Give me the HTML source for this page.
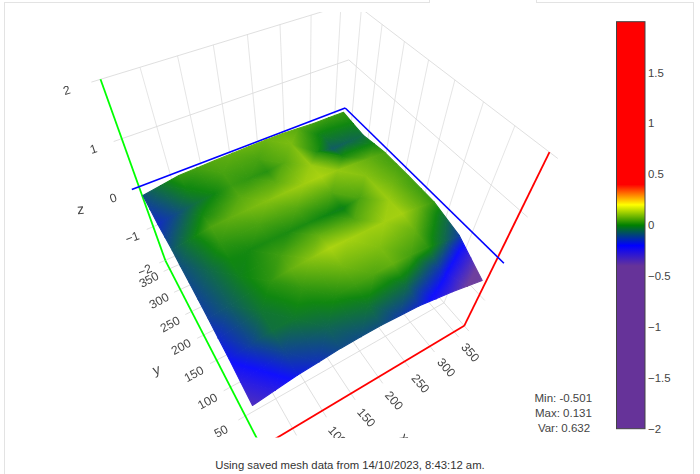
<!DOCTYPE html>
<html><head><meta charset="utf-8"><title>Bed Visualizer</title>
<style>
html,body{margin:0;padding:0;background:#fff;}
body{width:700px;height:474px;overflow:hidden;position:relative;font-family:"Liberation Sans",sans-serif;}
#frame{position:absolute;left:4px;top:2px;width:688px;height:480px;border:1px solid #e3e3e3;border-bottom:none;box-sizing:content-box;}
#gap{position:absolute;left:429px;top:0;width:106px;height:3px;background:#fff;border-left:1px solid #e3e3e3;border-right:1px solid #e3e3e3;}
svg{position:absolute;left:0;top:0;}
.g{stroke:#d9d9d9;stroke-width:0.85;fill:none}
.v{stroke:#e0e0e0}
.zx{stroke:#00ff00;stroke-width:1.8;fill:none}
.zy{stroke:#ff0000;stroke-width:1.8;fill:none}
.zz{stroke:#0000ff;stroke-width:1.6;fill:none}
.w{stroke:#fff;stroke-width:0.5;fill:none}
.t{fill:#444;font-family:"Liberation Sans",sans-serif;}
#surf path{stroke-width:1.1;stroke-linejoin:round}
#foot{position:absolute;left:0;width:700px;top:458.4px;text-align:center;font-size:11.3px;color:#333;line-height:14px;opacity:0.995;}
</style></head><body>
<div id="frame"></div><div id="gap"></div>
<svg width="700" height="474" viewBox="0 0 700 474">
<defs><clipPath id="sc"><rect x="8" y="12" width="600" height="425.6"/></clipPath>
<linearGradient id="t0" gradientUnits="userSpaceOnUse" x1="338.2" y1="129.7" x2="334.1" y2="116.2"><stop offset="0.000" stop-color="#10811b"/><stop offset="0.222" stop-color="#108710"/><stop offset="1.000" stop-color="#399b10"/></linearGradient><linearGradient id="t1" gradientUnits="userSpaceOnUse" x1="350.2" y1="125.1" x2="342.5" y2="110.5"><stop offset="0.000" stop-color="#108415"/><stop offset="0.125" stop-color="#108710"/><stop offset="1.000" stop-color="#399b10"/></linearGradient><linearGradient id="t2" gradientUnits="userSpaceOnUse" x1="322.9" y1="136.0" x2="318.3" y2="120.9"><stop offset="0.000" stop-color="#107e21"/><stop offset="0.300" stop-color="#108710"/><stop offset="1.000" stop-color="#399b10"/></linearGradient><linearGradient id="t3" gradientUnits="userSpaceOnUse" x1="322.9" y1="136.0" x2="316.3" y2="122.1"><stop offset="0.000" stop-color="#107e21"/><stop offset="0.273" stop-color="#108710"/><stop offset="1.000" stop-color="#3f9e10"/></linearGradient><linearGradient id="t4" gradientUnits="userSpaceOnUse" x1="323.0" y1="136.7" x2="300.5" y2="141.2"><stop offset="0.000" stop-color="#107e21"/><stop offset="0.200" stop-color="#108710"/><stop offset="1.000" stop-color="#57aa10"/></linearGradient><linearGradient id="t5" gradientUnits="userSpaceOnUse" x1="323.3" y1="135.7" x2="310.0" y2="118.9"><stop offset="0.000" stop-color="#107e21"/><stop offset="0.200" stop-color="#108710"/><stop offset="1.000" stop-color="#57aa10"/></linearGradient><linearGradient id="t6" gradientUnits="userSpaceOnUse" x1="307.5" y1="140.9" x2="291.2" y2="143.9"><stop offset="0.000" stop-color="#3c9d10"/><stop offset="1.000" stop-color="#7abc10"/></linearGradient><linearGradient id="t7" gradientUnits="userSpaceOnUse" x1="298.0" y1="128.5" x2="291.2" y2="143.9"><stop offset="0.000" stop-color="#57aa10"/><stop offset="1.000" stop-color="#7abc10"/></linearGradient><linearGradient id="t8" gradientUnits="userSpaceOnUse" x1="274.7" y1="151.3" x2="281.3" y2="138.7"><stop offset="0.000" stop-color="#61af10"/><stop offset="1.000" stop-color="#7abc10"/></linearGradient><linearGradient id="t9" gradientUnits="userSpaceOnUse" x1="280.3" y1="130.8" x2="289.3" y2="145.0"><stop offset="0.000" stop-color="#6bb410"/><stop offset="1.000" stop-color="#7abc10"/></linearGradient><linearGradient id="t10" gradientUnits="userSpaceOnUse" x1="257.9" y1="158.9" x2="267.2" y2="140.8"><stop offset="0.000" stop-color="#48a310"/><stop offset="1.000" stop-color="#6bb410"/></linearGradient><linearGradient id="t11" gradientUnits="userSpaceOnUse" x1="257.9" y1="158.9" x2="253.3" y2="143.9"><stop offset="0.000" stop-color="#48a310"/><stop offset="1.000" stop-color="#6bb410"/></linearGradient><linearGradient id="t12" gradientUnits="userSpaceOnUse" x1="240.6" y1="165.7" x2="235.3" y2="152.2"><stop offset="0.000" stop-color="#48a310"/><stop offset="1.000" stop-color="#60ae10"/></linearGradient><linearGradient id="t13" gradientUnits="userSpaceOnUse" x1="251.6" y1="160.0" x2="249.1" y2="146.5"><stop offset="0.000" stop-color="#48a310"/><stop offset="1.000" stop-color="#68b310"/></linearGradient><linearGradient id="t14" gradientUnits="userSpaceOnUse" x1="223.0" y1="172.7" x2="217.6" y2="159.1"><stop offset="0.000" stop-color="#48a310"/><stop offset="1.000" stop-color="#60ae10"/></linearGradient><linearGradient id="t15" gradientUnits="userSpaceOnUse" x1="223.0" y1="172.7" x2="223.2" y2="153.3"><stop offset="0.000" stop-color="#48a310"/><stop offset="1.000" stop-color="#60ae10"/></linearGradient><linearGradient id="t16" gradientUnits="userSpaceOnUse" x1="205.1" y1="181.0" x2="207.8" y2="169.2"><stop offset="0.000" stop-color="#299310"/><stop offset="1.000" stop-color="#48a310"/></linearGradient><linearGradient id="t17" gradientUnits="userSpaceOnUse" x1="211.8" y1="171.8" x2="214.7" y2="160.4"><stop offset="0.000" stop-color="#45a110"/><stop offset="1.000" stop-color="#57aa10"/></linearGradient><linearGradient id="t18" gradientUnits="userSpaceOnUse" x1="186.9" y1="189.5" x2="191.8" y2="166.8"><stop offset="0.000" stop-color="#108415"/><stop offset="0.100" stop-color="#108710"/><stop offset="1.000" stop-color="#45a110"/></linearGradient><linearGradient id="t19" gradientUnits="userSpaceOnUse" x1="186.9" y1="189.5" x2="185.2" y2="168.9"><stop offset="0.000" stop-color="#108415"/><stop offset="0.100" stop-color="#108710"/><stop offset="1.000" stop-color="#45a110"/></linearGradient><linearGradient id="t20" gradientUnits="userSpaceOnUse" x1="168.7" y1="199.4" x2="175.7" y2="184.3"><stop offset="0.000" stop-color="#10615a"/><stop offset="1.000" stop-color="#108415"/></linearGradient><linearGradient id="t21" gradientUnits="userSpaceOnUse" x1="172.4" y1="190.5" x2="178.9" y2="175.6"><stop offset="0.000" stop-color="#107533"/><stop offset="0.500" stop-color="#108710"/><stop offset="1.000" stop-color="#339810"/></linearGradient><linearGradient id="t22" gradientUnits="userSpaceOnUse" x1="150.2" y1="209.6" x2="161.2" y2="185.5"><stop offset="0.000" stop-color="#103f9e"/><stop offset="1.000" stop-color="#107533"/></linearGradient><linearGradient id="t23" gradientUnits="userSpaceOnUse" x1="150.2" y1="209.6" x2="163.1" y2="186.6"><stop offset="0.000" stop-color="#103f9e"/><stop offset="1.000" stop-color="#107533"/></linearGradient><linearGradient id="t24" gradientUnits="userSpaceOnUse" x1="348.0" y1="142.0" x2="346.3" y2="124.2"><stop offset="0.000" stop-color="#106651"/><stop offset="1.000" stop-color="#108415"/></linearGradient><linearGradient id="t25" gradientUnits="userSpaceOnUse" x1="348.0" y1="142.0" x2="343.4" y2="126.5"><stop offset="0.000" stop-color="#106651"/><stop offset="1.000" stop-color="#108415"/></linearGradient><linearGradient id="t26" gradientUnits="userSpaceOnUse" x1="332.5" y1="149.0" x2="329.8" y2="134.7"><stop offset="0.000" stop-color="#105d63"/><stop offset="1.000" stop-color="#107e21"/></linearGradient><linearGradient id="t27" gradientUnits="userSpaceOnUse" x1="342.4" y1="143.7" x2="338.2" y2="129.7"><stop offset="0.000" stop-color="#106651"/><stop offset="1.000" stop-color="#10811b"/></linearGradient><linearGradient id="t28" gradientUnits="userSpaceOnUse" x1="332.4" y1="152.2" x2="316.9" y2="151.7"><stop offset="0.000" stop-color="#105d63"/><stop offset="0.824" stop-color="#108710"/><stop offset="1.000" stop-color="#218f10"/></linearGradient><linearGradient id="t29" gradientUnits="userSpaceOnUse" x1="325.9" y1="149.7" x2="310.2" y2="153.1"><stop offset="0.000" stop-color="#107e21"/><stop offset="0.286" stop-color="#108710"/><stop offset="1.000" stop-color="#3c9d10"/></linearGradient><linearGradient id="t30" gradientUnits="userSpaceOnUse" x1="309.3" y1="144.8" x2="300.6" y2="154.5"><stop offset="0.000" stop-color="#218f10"/><stop offset="1.000" stop-color="#86c210"/></linearGradient><linearGradient id="t31" gradientUnits="userSpaceOnUse" x1="314.3" y1="138.5" x2="291.0" y2="143.1"><stop offset="0.000" stop-color="#218f10"/><stop offset="1.000" stop-color="#7abc10"/></linearGradient><linearGradient id="t32" gradientUnits="userSpaceOnUse" x1="283.9" y1="163.0" x2="301.2" y2="155.9"><stop offset="0.000" stop-color="#57aa10"/><stop offset="1.000" stop-color="#86c210"/></linearGradient><linearGradient id="t33" gradientUnits="userSpaceOnUse" x1="283.9" y1="163.0" x2="293.6" y2="145.2"><stop offset="0.000" stop-color="#57aa10"/><stop offset="1.000" stop-color="#7abc10"/></linearGradient><linearGradient id="t34" gradientUnits="userSpaceOnUse" x1="267.0" y1="171.7" x2="271.2" y2="158.8"><stop offset="0.000" stop-color="#279210"/><stop offset="1.000" stop-color="#57aa10"/></linearGradient><linearGradient id="t35" gradientUnits="userSpaceOnUse" x1="267.8" y1="164.2" x2="274.7" y2="151.3"><stop offset="0.000" stop-color="#48a310"/><stop offset="1.000" stop-color="#61af10"/></linearGradient><linearGradient id="t36" gradientUnits="userSpaceOnUse" x1="251.9" y1="182.0" x2="243.0" y2="169.0"><stop offset="0.000" stop-color="#279210"/><stop offset="1.000" stop-color="#48a310"/></linearGradient><linearGradient id="t37" gradientUnits="userSpaceOnUse" x1="249.5" y1="178.5" x2="243.9" y2="164.4"><stop offset="0.000" stop-color="#309710"/><stop offset="1.000" stop-color="#48a310"/></linearGradient><linearGradient id="t38" gradientUnits="userSpaceOnUse" x1="238.2" y1="191.3" x2="220.4" y2="175.6"><stop offset="0.000" stop-color="#309710"/><stop offset="1.000" stop-color="#48a310"/></linearGradient><linearGradient id="t39" gradientUnits="userSpaceOnUse" x1="246.2" y1="179.8" x2="240.6" y2="165.7"><stop offset="0.000" stop-color="#309710"/><stop offset="1.000" stop-color="#48a310"/></linearGradient><linearGradient id="t40" gradientUnits="userSpaceOnUse" x1="213.4" y1="194.5" x2="226.5" y2="175.0"><stop offset="0.000" stop-color="#108512"/><stop offset="0.050" stop-color="#108710"/><stop offset="1.000" stop-color="#48a310"/></linearGradient><linearGradient id="t41" gradientUnits="userSpaceOnUse" x1="213.4" y1="194.5" x2="219.0" y2="171.7"><stop offset="0.000" stop-color="#108512"/><stop offset="0.050" stop-color="#108710"/><stop offset="1.000" stop-color="#48a310"/></linearGradient><linearGradient id="t42" gradientUnits="userSpaceOnUse" x1="195.1" y1="203.8" x2="197.9" y2="191.0"><stop offset="0.000" stop-color="#106f3f"/><stop offset="1.000" stop-color="#108512"/></linearGradient><linearGradient id="t43" gradientUnits="userSpaceOnUse" x1="202.2" y1="193.1" x2="205.1" y2="181.0"><stop offset="0.000" stop-color="#108415"/><stop offset="0.190" stop-color="#108710"/><stop offset="1.000" stop-color="#299310"/></linearGradient><linearGradient id="t44" gradientUnits="userSpaceOnUse" x1="176.6" y1="213.9" x2="186.3" y2="189.2"><stop offset="0.000" stop-color="#104e80"/><stop offset="1.000" stop-color="#108415"/></linearGradient><linearGradient id="t45" gradientUnits="userSpaceOnUse" x1="176.6" y1="213.9" x2="188.2" y2="190.1"><stop offset="0.000" stop-color="#104e80"/><stop offset="1.000" stop-color="#108415"/></linearGradient><linearGradient id="t46" gradientUnits="userSpaceOnUse" x1="157.8" y1="224.2" x2="165.8" y2="208.5"><stop offset="0.000" stop-color="#102dc1"/><stop offset="1.000" stop-color="#104e80"/></linearGradient><linearGradient id="t47" gradientUnits="userSpaceOnUse" x1="161.3" y1="214.9" x2="168.7" y2="199.4"><stop offset="0.000" stop-color="#103f9e"/><stop offset="1.000" stop-color="#10615a"/></linearGradient><linearGradient id="t48" gradientUnits="userSpaceOnUse" x1="354.8" y1="139.6" x2="358.6" y2="150.1"><stop offset="0.000" stop-color="#106651"/><stop offset="0.898" stop-color="#108710"/><stop offset="1.000" stop-color="#178a10"/></linearGradient><linearGradient id="t49" gradientUnits="userSpaceOnUse" x1="360.0" y1="131.6" x2="372.0" y2="145.5"><stop offset="0.000" stop-color="#106651"/><stop offset="0.957" stop-color="#108710"/><stop offset="1.000" stop-color="#128810"/></linearGradient><linearGradient id="t50" gradientUnits="userSpaceOnUse" x1="338.9" y1="145.3" x2="342.9" y2="156.4"><stop offset="0.000" stop-color="#106651"/><stop offset="0.846" stop-color="#108710"/><stop offset="1.000" stop-color="#1b8c10"/></linearGradient><linearGradient id="t51" gradientUnits="userSpaceOnUse" x1="336.7" y1="146.4" x2="342.9" y2="156.4"><stop offset="0.000" stop-color="#105d63"/><stop offset="0.875" stop-color="#108710"/><stop offset="1.000" stop-color="#1b8c10"/></linearGradient><linearGradient id="t52" gradientUnits="userSpaceOnUse" x1="328.6" y1="153.4" x2="327.0" y2="160.8"><stop offset="0.000" stop-color="#1b8c10"/><stop offset="1.000" stop-color="#5aab10"/></linearGradient><linearGradient id="t53" gradientUnits="userSpaceOnUse" x1="332.5" y1="149.0" x2="331.5" y2="154.5"><stop offset="0.000" stop-color="#105d63"/><stop offset="0.824" stop-color="#108710"/><stop offset="1.000" stop-color="#218f10"/></linearGradient><linearGradient id="t54" gradientUnits="userSpaceOnUse" x1="313.4" y1="151.0" x2="310.5" y2="165.3"><stop offset="0.000" stop-color="#218f10"/><stop offset="1.000" stop-color="#98ca10"/></linearGradient><linearGradient id="t55" gradientUnits="userSpaceOnUse" x1="319.7" y1="154.0" x2="310.5" y2="165.3"><stop offset="0.000" stop-color="#218f10"/><stop offset="1.000" stop-color="#98ca10"/></linearGradient><linearGradient id="t56" gradientUnits="userSpaceOnUse" x1="281.7" y1="167.2" x2="303.3" y2="178.7"><stop offset="0.000" stop-color="#57aa10"/><stop offset="1.000" stop-color="#98ca10"/></linearGradient><linearGradient id="t57" gradientUnits="userSpaceOnUse" x1="282.9" y1="159.0" x2="307.3" y2="152.8"><stop offset="0.000" stop-color="#57aa10"/><stop offset="1.000" stop-color="#98ca10"/></linearGradient><linearGradient id="t58" gradientUnits="userSpaceOnUse" x1="274.2" y1="180.8" x2="286.0" y2="187.2"><stop offset="0.000" stop-color="#57aa10"/><stop offset="1.000" stop-color="#7abc10"/></linearGradient><linearGradient id="t59" gradientUnits="userSpaceOnUse" x1="264.8" y1="176.2" x2="276.2" y2="181.8"><stop offset="0.000" stop-color="#279210"/><stop offset="1.000" stop-color="#5dad10"/></linearGradient><linearGradient id="t60" gradientUnits="userSpaceOnUse" x1="252.4" y1="177.0" x2="258.8" y2="190.2"><stop offset="0.000" stop-color="#309710"/><stop offset="1.000" stop-color="#5dad10"/></linearGradient><linearGradient id="t61" gradientUnits="userSpaceOnUse" x1="267.0" y1="171.7" x2="270.1" y2="183.5"><stop offset="0.000" stop-color="#279210"/><stop offset="1.000" stop-color="#5dad10"/></linearGradient><linearGradient id="t62" gradientUnits="userSpaceOnUse" x1="234.7" y1="185.6" x2="240.6" y2="197.9"><stop offset="0.000" stop-color="#309710"/><stop offset="1.000" stop-color="#5aab10"/></linearGradient><linearGradient id="t63" gradientUnits="userSpaceOnUse" x1="237.4" y1="180.5" x2="240.2" y2="197.0"><stop offset="0.000" stop-color="#309710"/><stop offset="1.000" stop-color="#57aa10"/></linearGradient><linearGradient id="t64" gradientUnits="userSpaceOnUse" x1="210.7" y1="198.7" x2="230.3" y2="211.8"><stop offset="0.000" stop-color="#108512"/><stop offset="0.040" stop-color="#108710"/><stop offset="1.000" stop-color="#57aa10"/></linearGradient><linearGradient id="t65" gradientUnits="userSpaceOnUse" x1="215.8" y1="182.4" x2="242.0" y2="187.4"><stop offset="0.000" stop-color="#108512"/><stop offset="0.040" stop-color="#108710"/><stop offset="1.000" stop-color="#57aa10"/></linearGradient><linearGradient id="t66" gradientUnits="userSpaceOnUse" x1="200.4" y1="213.6" x2="211.4" y2="221.1"><stop offset="0.000" stop-color="#108512"/><stop offset="0.071" stop-color="#108710"/><stop offset="1.000" stop-color="#369a10"/></linearGradient><linearGradient id="t67" gradientUnits="userSpaceOnUse" x1="192.1" y1="208.4" x2="202.8" y2="215.2"><stop offset="0.000" stop-color="#106f3f"/><stop offset="0.889" stop-color="#108710"/><stop offset="1.000" stop-color="#158910"/></linearGradient><linearGradient id="t68" gradientUnits="userSpaceOnUse" x1="174.0" y1="223.2" x2="198.7" y2="230.0"><stop offset="0.000" stop-color="#104e80"/><stop offset="0.950" stop-color="#108710"/><stop offset="1.000" stop-color="#158910"/></linearGradient><linearGradient id="t69" gradientUnits="userSpaceOnUse" x1="182.2" y1="198.9" x2="205.6" y2="207.7"><stop offset="0.000" stop-color="#104e80"/><stop offset="0.950" stop-color="#108710"/><stop offset="1.000" stop-color="#158910"/></linearGradient><linearGradient id="t70" gradientUnits="userSpaceOnUse" x1="164.8" y1="236.8" x2="179.7" y2="241.0"><stop offset="0.000" stop-color="#104298"/><stop offset="1.000" stop-color="#106651"/></linearGradient><linearGradient id="t71" gradientUnits="userSpaceOnUse" x1="155.2" y1="234.3" x2="170.2" y2="238.3"><stop offset="0.000" stop-color="#102dc1"/><stop offset="1.000" stop-color="#104e80"/></linearGradient><linearGradient id="t72" gradientUnits="userSpaceOnUse" x1="369.2" y1="144.0" x2="369.8" y2="158.5"><stop offset="0.000" stop-color="#128810"/><stop offset="1.000" stop-color="#60ae10"/></linearGradient><linearGradient id="t73" gradientUnits="userSpaceOnUse" x1="365.6" y1="146.8" x2="369.8" y2="158.5"><stop offset="0.000" stop-color="#128810"/><stop offset="1.000" stop-color="#60ae10"/></linearGradient><linearGradient id="t74" gradientUnits="userSpaceOnUse" x1="352.1" y1="154.7" x2="353.9" y2="164.3"><stop offset="0.000" stop-color="#1b8c10"/><stop offset="1.000" stop-color="#7abc10"/></linearGradient><linearGradient id="t75" gradientUnits="userSpaceOnUse" x1="358.6" y1="150.1" x2="362.6" y2="161.1"><stop offset="0.000" stop-color="#178a10"/><stop offset="1.000" stop-color="#60ae10"/></linearGradient><linearGradient id="t76" gradientUnits="userSpaceOnUse" x1="335.0" y1="158.2" x2="337.6" y2="170.4"><stop offset="0.000" stop-color="#1b8c10"/><stop offset="1.000" stop-color="#92c810"/></linearGradient><linearGradient id="t77" gradientUnits="userSpaceOnUse" x1="340.9" y1="156.0" x2="337.6" y2="170.4"><stop offset="0.000" stop-color="#1b8c10"/><stop offset="1.000" stop-color="#92c810"/></linearGradient><linearGradient id="t78" gradientUnits="userSpaceOnUse" x1="323.8" y1="166.4" x2="320.8" y2="176.7"><stop offset="0.000" stop-color="#92c810"/><stop offset="1.000" stop-color="#aad310"/></linearGradient><linearGradient id="t79" gradientUnits="userSpaceOnUse" x1="327.0" y1="160.8" x2="325.3" y2="168.5"><stop offset="0.000" stop-color="#5aab10"/><stop offset="1.000" stop-color="#98ca10"/></linearGradient><linearGradient id="t80" gradientUnits="userSpaceOnUse" x1="299.4" y1="181.7" x2="311.8" y2="190.1"><stop offset="0.000" stop-color="#98ca10"/><stop offset="1.000" stop-color="#aad310"/></linearGradient><linearGradient id="t81" gradientUnits="userSpaceOnUse" x1="291.1" y1="178.3" x2="303.6" y2="184.5"><stop offset="0.000" stop-color="#7abc10"/><stop offset="1.000" stop-color="#9ecd10"/></linearGradient><linearGradient id="t82" gradientUnits="userSpaceOnUse" x1="278.0" y1="180.6" x2="287.6" y2="195.1"><stop offset="0.000" stop-color="#5dad10"/><stop offset="1.000" stop-color="#9ecd10"/></linearGradient><linearGradient id="t83" gradientUnits="userSpaceOnUse" x1="283.2" y1="168.2" x2="305.9" y2="179.9"><stop offset="0.000" stop-color="#5dad10"/><stop offset="1.000" stop-color="#9ecd10"/></linearGradient><linearGradient id="t84" gradientUnits="userSpaceOnUse" x1="261.7" y1="192.4" x2="270.1" y2="204.0"><stop offset="0.000" stop-color="#5dad10"/><stop offset="1.000" stop-color="#92c810"/></linearGradient><linearGradient id="t85" gradientUnits="userSpaceOnUse" x1="261.5" y1="187.8" x2="267.8" y2="200.8"><stop offset="0.000" stop-color="#5aab10"/><stop offset="1.000" stop-color="#83c010"/></linearGradient><linearGradient id="t86" gradientUnits="userSpaceOnUse" x1="238.4" y1="198.9" x2="254.7" y2="214.4"><stop offset="0.000" stop-color="#57aa10"/><stop offset="1.000" stop-color="#83c010"/></linearGradient><linearGradient id="t87" gradientUnits="userSpaceOnUse" x1="257.9" y1="188.4" x2="264.7" y2="202.3"><stop offset="0.000" stop-color="#57aa10"/><stop offset="1.000" stop-color="#83c010"/></linearGradient><linearGradient id="t88" gradientUnits="userSpaceOnUse" x1="226.8" y1="215.6" x2="238.5" y2="224.1"><stop offset="0.000" stop-color="#57aa10"/><stop offset="1.000" stop-color="#74b910"/></linearGradient><linearGradient id="t89" gradientUnits="userSpaceOnUse" x1="218.7" y1="210.8" x2="230.3" y2="218.1"><stop offset="0.000" stop-color="#369a10"/><stop offset="1.000" stop-color="#60ae10"/></linearGradient><linearGradient id="t90" gradientUnits="userSpaceOnUse" x1="201.6" y1="216.2" x2="214.6" y2="231.5"><stop offset="0.000" stop-color="#158910"/><stop offset="1.000" stop-color="#60ae10"/></linearGradient><linearGradient id="t91" gradientUnits="userSpaceOnUse" x1="212.5" y1="200.1" x2="233.3" y2="213.5"><stop offset="0.000" stop-color="#158910"/><stop offset="1.000" stop-color="#60ae10"/></linearGradient><linearGradient id="t92" gradientUnits="userSpaceOnUse" x1="191.6" y1="238.6" x2="206.9" y2="242.6"><stop offset="0.000" stop-color="#107e21"/><stop offset="0.231" stop-color="#108710"/><stop offset="1.000" stop-color="#4ba410"/></linearGradient><linearGradient id="t93" gradientUnits="userSpaceOnUse" x1="181.4" y1="236.1" x2="196.8" y2="239.8"><stop offset="0.000" stop-color="#106651"/><stop offset="0.917" stop-color="#108710"/><stop offset="1.000" stop-color="#158910"/></linearGradient><linearGradient id="t94" gradientUnits="userSpaceOnUse" x1="162.8" y1="248.6" x2="189.3" y2="252.9"><stop offset="0.000" stop-color="#104298"/><stop offset="1.000" stop-color="#107e21"/></linearGradient><linearGradient id="t95" gradientUnits="userSpaceOnUse" x1="168.5" y1="222.0" x2="194.2" y2="228.5"><stop offset="0.000" stop-color="#104298"/><stop offset="1.000" stop-color="#107e21"/></linearGradient><linearGradient id="t96" gradientUnits="userSpaceOnUse" x1="389.3" y1="158.8" x2="381.1" y2="169.9"><stop offset="0.000" stop-color="#45a110"/><stop offset="1.000" stop-color="#65b110"/></linearGradient><linearGradient id="t97" gradientUnits="userSpaceOnUse" x1="385.2" y1="152.8" x2="374.7" y2="163.4"><stop offset="0.000" stop-color="#45a110"/><stop offset="1.000" stop-color="#60ae10"/></linearGradient><linearGradient id="t98" gradientUnits="userSpaceOnUse" x1="375.0" y1="162.2" x2="365.1" y2="175.8"><stop offset="0.000" stop-color="#60ae10"/><stop offset="1.000" stop-color="#86c210"/></linearGradient><linearGradient id="t99" gradientUnits="userSpaceOnUse" x1="372.8" y1="160.0" x2="365.1" y2="175.8"><stop offset="0.000" stop-color="#60ae10"/><stop offset="1.000" stop-color="#86c210"/></linearGradient><linearGradient id="t100" gradientUnits="userSpaceOnUse" x1="348.5" y1="184.0" x2="348.9" y2="170.8"><stop offset="0.000" stop-color="#6eb610"/><stop offset="1.000" stop-color="#92c810"/></linearGradient><linearGradient id="t101" gradientUnits="userSpaceOnUse" x1="353.9" y1="164.3" x2="349.1" y2="175.4"><stop offset="0.000" stop-color="#7abc10"/><stop offset="1.000" stop-color="#92c810"/></linearGradient><linearGradient id="t102" gradientUnits="userSpaceOnUse" x1="331.4" y1="192.3" x2="332.0" y2="170.3"><stop offset="0.000" stop-color="#57aa10"/><stop offset="1.000" stop-color="#92c810"/></linearGradient><linearGradient id="t103" gradientUnits="userSpaceOnUse" x1="331.4" y1="192.3" x2="319.8" y2="177.5"><stop offset="0.000" stop-color="#57aa10"/><stop offset="1.000" stop-color="#aad310"/></linearGradient><linearGradient id="t104" gradientUnits="userSpaceOnUse" x1="314.0" y1="200.0" x2="306.6" y2="183.1"><stop offset="0.000" stop-color="#57aa10"/><stop offset="1.000" stop-color="#9ecd10"/></linearGradient><linearGradient id="t105" gradientUnits="userSpaceOnUse" x1="325.9" y1="194.0" x2="320.8" y2="176.7"><stop offset="0.000" stop-color="#57aa10"/><stop offset="1.000" stop-color="#aad310"/></linearGradient><linearGradient id="t106" gradientUnits="userSpaceOnUse" x1="296.2" y1="207.9" x2="288.7" y2="191.0"><stop offset="0.000" stop-color="#57aa10"/><stop offset="1.000" stop-color="#9ecd10"/></linearGradient><linearGradient id="t107" gradientUnits="userSpaceOnUse" x1="296.2" y1="207.9" x2="291.1" y2="187.6"><stop offset="0.000" stop-color="#57aa10"/><stop offset="1.000" stop-color="#9ecd10"/></linearGradient><linearGradient id="t108" gradientUnits="userSpaceOnUse" x1="277.9" y1="216.2" x2="272.6" y2="199.3"><stop offset="0.000" stop-color="#4fa610"/><stop offset="1.000" stop-color="#83c010"/></linearGradient><linearGradient id="t109" gradientUnits="userSpaceOnUse" x1="289.5" y1="209.3" x2="285.9" y2="192.5"><stop offset="0.000" stop-color="#57aa10"/><stop offset="1.000" stop-color="#92c810"/></linearGradient><linearGradient id="t110" gradientUnits="userSpaceOnUse" x1="259.1" y1="224.8" x2="253.0" y2="205.4"><stop offset="0.000" stop-color="#48a310"/><stop offset="1.000" stop-color="#83c010"/></linearGradient><linearGradient id="t111" gradientUnits="userSpaceOnUse" x1="259.1" y1="224.8" x2="255.7" y2="202.6"><stop offset="0.000" stop-color="#48a310"/><stop offset="1.000" stop-color="#83c010"/></linearGradient><linearGradient id="t112" gradientUnits="userSpaceOnUse" x1="239.9" y1="233.8" x2="237.4" y2="217.1"><stop offset="0.000" stop-color="#3a9c10"/><stop offset="1.000" stop-color="#60ae10"/></linearGradient><linearGradient id="t113" gradientUnits="userSpaceOnUse" x1="250.4" y1="225.4" x2="249.2" y2="209.2"><stop offset="0.000" stop-color="#48a310"/><stop offset="1.000" stop-color="#74b910"/></linearGradient><linearGradient id="t114" gradientUnits="userSpaceOnUse" x1="220.2" y1="243.0" x2="216.6" y2="220.3"><stop offset="0.000" stop-color="#2d9510"/><stop offset="1.000" stop-color="#60ae10"/></linearGradient><linearGradient id="t115" gradientUnits="userSpaceOnUse" x1="220.2" y1="243.0" x2="222.0" y2="217.5"><stop offset="0.000" stop-color="#2d9510"/><stop offset="1.000" stop-color="#60ae10"/></linearGradient><linearGradient id="t116" gradientUnits="userSpaceOnUse" x1="200.5" y1="254.3" x2="214.1" y2="237.9"><stop offset="0.000" stop-color="#107336"/><stop offset="0.565" stop-color="#108710"/><stop offset="1.000" stop-color="#2d9510"/></linearGradient><linearGradient id="t117" gradientUnits="userSpaceOnUse" x1="199.5" y1="244.0" x2="210.9" y2="227.3"><stop offset="0.000" stop-color="#107e21"/><stop offset="0.231" stop-color="#108710"/><stop offset="1.000" stop-color="#4ba410"/></linearGradient><linearGradient id="t118" gradientUnits="userSpaceOnUse" x1="180.4" y1="265.9" x2="198.3" y2="244.1"><stop offset="0.000" stop-color="#10517a"/><stop offset="1.000" stop-color="#107e21"/></linearGradient><linearGradient id="t119" gradientUnits="userSpaceOnUse" x1="180.4" y1="265.9" x2="200.6" y2="249.6"><stop offset="0.000" stop-color="#10517a"/><stop offset="1.000" stop-color="#107e21"/></linearGradient><linearGradient id="t120" gradientUnits="userSpaceOnUse" x1="403.6" y1="171.1" x2="393.0" y2="181.8"><stop offset="0.000" stop-color="#45a110"/><stop offset="1.000" stop-color="#6bb410"/></linearGradient><linearGradient id="t121" gradientUnits="userSpaceOnUse" x1="402.7" y1="168.7" x2="393.0" y2="181.8"><stop offset="0.000" stop-color="#45a110"/><stop offset="1.000" stop-color="#6bb410"/></linearGradient><linearGradient id="t122" gradientUnits="userSpaceOnUse" x1="383.9" y1="176.3" x2="376.9" y2="187.8"><stop offset="0.000" stop-color="#6bb410"/><stop offset="1.000" stop-color="#92c810"/></linearGradient><linearGradient id="t123" gradientUnits="userSpaceOnUse" x1="381.1" y1="169.9" x2="372.7" y2="181.4"><stop offset="0.000" stop-color="#65b110"/><stop offset="1.000" stop-color="#86c210"/></linearGradient><linearGradient id="t124" gradientUnits="userSpaceOnUse" x1="359.7" y1="198.1" x2="376.5" y2="187.2"><stop offset="0.000" stop-color="#4ba410"/><stop offset="1.000" stop-color="#92c810"/></linearGradient><linearGradient id="t125" gradientUnits="userSpaceOnUse" x1="359.7" y1="198.1" x2="360.8" y2="175.6"><stop offset="0.000" stop-color="#4ba410"/><stop offset="1.000" stop-color="#86c210"/></linearGradient><linearGradient id="t126" gradientUnits="userSpaceOnUse" x1="342.3" y1="208.5" x2="344.2" y2="194.0"><stop offset="0.000" stop-color="#10811b"/><stop offset="0.143" stop-color="#108710"/><stop offset="1.000" stop-color="#57aa10"/></linearGradient><linearGradient id="t127" gradientUnits="userSpaceOnUse" x1="347.9" y1="197.6" x2="348.5" y2="184.0"><stop offset="0.000" stop-color="#4ba410"/><stop offset="1.000" stop-color="#6eb610"/></linearGradient><linearGradient id="t128" gradientUnits="userSpaceOnUse" x1="326.3" y1="218.4" x2="316.0" y2="201.8"><stop offset="0.000" stop-color="#10811b"/><stop offset="0.143" stop-color="#108710"/><stop offset="1.000" stop-color="#57aa10"/></linearGradient><linearGradient id="t129" gradientUnits="userSpaceOnUse" x1="324.8" y1="216.0" x2="317.2" y2="198.6"><stop offset="0.000" stop-color="#108710"/><stop offset="1.000" stop-color="#57aa10"/></linearGradient><linearGradient id="t130" gradientUnits="userSpaceOnUse" x1="309.0" y1="227.0" x2="295.9" y2="208.0"><stop offset="0.000" stop-color="#108710"/><stop offset="1.000" stop-color="#57aa10"/></linearGradient><linearGradient id="t131" gradientUnits="userSpaceOnUse" x1="321.7" y1="217.4" x2="314.0" y2="200.0"><stop offset="0.000" stop-color="#108710"/><stop offset="1.000" stop-color="#57aa10"/></linearGradient><linearGradient id="t132" gradientUnits="userSpaceOnUse" x1="288.3" y1="232.2" x2="280.5" y2="215.0"><stop offset="0.000" stop-color="#1b8c10"/><stop offset="1.000" stop-color="#57aa10"/></linearGradient><linearGradient id="t133" gradientUnits="userSpaceOnUse" x1="288.3" y1="232.2" x2="282.2" y2="212.1"><stop offset="0.000" stop-color="#1b8c10"/><stop offset="1.000" stop-color="#57aa10"/></linearGradient><linearGradient id="t134" gradientUnits="userSpaceOnUse" x1="269.3" y1="240.9" x2="261.5" y2="223.7"><stop offset="0.000" stop-color="#1b8c10"/><stop offset="1.000" stop-color="#48a310"/></linearGradient><linearGradient id="t135" gradientUnits="userSpaceOnUse" x1="283.3" y1="233.8" x2="277.9" y2="216.2"><stop offset="0.000" stop-color="#1b8c10"/><stop offset="1.000" stop-color="#4fa610"/></linearGradient><linearGradient id="t136" gradientUnits="userSpaceOnUse" x1="249.8" y1="250.0" x2="243.2" y2="230.1"><stop offset="0.000" stop-color="#158910"/><stop offset="1.000" stop-color="#48a310"/></linearGradient><linearGradient id="t137" gradientUnits="userSpaceOnUse" x1="249.8" y1="250.0" x2="246.6" y2="226.5"><stop offset="0.000" stop-color="#158910"/><stop offset="1.000" stop-color="#48a310"/></linearGradient><linearGradient id="t138" gradientUnits="userSpaceOnUse" x1="229.8" y1="259.4" x2="224.9" y2="241.7"><stop offset="0.000" stop-color="#108710"/><stop offset="1.000" stop-color="#2d9510"/></linearGradient><linearGradient id="t139" gradientUnits="userSpaceOnUse" x1="242.4" y1="251.1" x2="239.9" y2="233.8"><stop offset="0.000" stop-color="#158910"/><stop offset="1.000" stop-color="#3a9c10"/></linearGradient><linearGradient id="t140" gradientUnits="userSpaceOnUse" x1="209.6" y1="270.8" x2="223.7" y2="244.9"><stop offset="0.000" stop-color="#10694b"/><stop offset="0.667" stop-color="#108710"/><stop offset="1.000" stop-color="#2d9510"/></linearGradient><linearGradient id="t141" gradientUnits="userSpaceOnUse" x1="209.6" y1="270.8" x2="227.8" y2="249.5"><stop offset="0.000" stop-color="#10694b"/><stop offset="0.667" stop-color="#108710"/><stop offset="1.000" stop-color="#2d9510"/></linearGradient><linearGradient id="t142" gradientUnits="userSpaceOnUse" x1="189.2" y1="282.4" x2="206.2" y2="267.0"><stop offset="0.000" stop-color="#104b86"/><stop offset="1.000" stop-color="#10694b"/></linearGradient><linearGradient id="t143" gradientUnits="userSpaceOnUse" x1="186.4" y1="270.9" x2="200.5" y2="254.3"><stop offset="0.000" stop-color="#10517a"/><stop offset="1.000" stop-color="#107336"/></linearGradient><linearGradient id="t144" gradientUnits="userSpaceOnUse" x1="416.3" y1="183.8" x2="405.3" y2="194.5"><stop offset="0.000" stop-color="#3c9d10"/><stop offset="1.000" stop-color="#6bb410"/></linearGradient><linearGradient id="t145" gradientUnits="userSpaceOnUse" x1="411.8" y1="174.0" x2="394.8" y2="184.7"><stop offset="0.000" stop-color="#3c9d10"/><stop offset="1.000" stop-color="#6bb410"/></linearGradient><linearGradient id="t146" gradientUnits="userSpaceOnUse" x1="400.4" y1="189.4" x2="389.1" y2="200.5"><stop offset="0.000" stop-color="#6bb410"/><stop offset="1.000" stop-color="#9bcc10"/></linearGradient><linearGradient id="t147" gradientUnits="userSpaceOnUse" x1="399.2" y1="186.2" x2="389.1" y2="200.5"><stop offset="0.000" stop-color="#6bb410"/><stop offset="1.000" stop-color="#9bcc10"/></linearGradient><linearGradient id="t148" gradientUnits="userSpaceOnUse" x1="357.4" y1="204.7" x2="384.3" y2="214.2"><stop offset="0.000" stop-color="#4ba410"/><stop offset="1.000" stop-color="#9bcc10"/></linearGradient><linearGradient id="t149" gradientUnits="userSpaceOnUse" x1="360.7" y1="199.5" x2="378.9" y2="186.3"><stop offset="0.000" stop-color="#4ba410"/><stop offset="1.000" stop-color="#9bcc10"/></linearGradient><linearGradient id="t150" gradientUnits="userSpaceOnUse" x1="352.2" y1="218.6" x2="366.7" y2="223.9"><stop offset="0.000" stop-color="#4ba410"/><stop offset="1.000" stop-color="#76b910"/></linearGradient><linearGradient id="t151" gradientUnits="userSpaceOnUse" x1="340.3" y1="214.9" x2="354.2" y2="219.3"><stop offset="0.000" stop-color="#10811b"/><stop offset="0.154" stop-color="#108710"/><stop offset="1.000" stop-color="#51a710"/></linearGradient><linearGradient id="t152" gradientUnits="userSpaceOnUse" x1="331.7" y1="213.7" x2="336.4" y2="227.3"><stop offset="0.000" stop-color="#108710"/><stop offset="1.000" stop-color="#5aac10"/></linearGradient><linearGradient id="t153" gradientUnits="userSpaceOnUse" x1="342.3" y1="208.5" x2="346.4" y2="221.7"><stop offset="0.000" stop-color="#10811b"/><stop offset="0.154" stop-color="#108710"/><stop offset="1.000" stop-color="#51a710"/></linearGradient><linearGradient id="t154" gradientUnits="userSpaceOnUse" x1="312.7" y1="220.2" x2="318.0" y2="235.6"><stop offset="0.000" stop-color="#108710"/><stop offset="1.000" stop-color="#63b010"/></linearGradient><linearGradient id="t155" gradientUnits="userSpaceOnUse" x1="313.2" y1="219.4" x2="318.0" y2="235.6"><stop offset="0.000" stop-color="#108710"/><stop offset="1.000" stop-color="#63b010"/></linearGradient><linearGradient id="t156" gradientUnits="userSpaceOnUse" x1="287.8" y1="232.7" x2="302.9" y2="249.3"><stop offset="0.000" stop-color="#1b8c10"/><stop offset="1.000" stop-color="#63b010"/></linearGradient><linearGradient id="t157" gradientUnits="userSpaceOnUse" x1="306.8" y1="223.8" x2="313.2" y2="237.8"><stop offset="0.000" stop-color="#1b8c10"/><stop offset="1.000" stop-color="#63b010"/></linearGradient><linearGradient id="t158" gradientUnits="userSpaceOnUse" x1="272.3" y1="246.5" x2="283.5" y2="259.1"><stop offset="0.000" stop-color="#1b8c10"/><stop offset="1.000" stop-color="#51a710"/></linearGradient><linearGradient id="t159" gradientUnits="userSpaceOnUse" x1="272.7" y1="239.3" x2="279.7" y2="254.8"><stop offset="0.000" stop-color="#1b8c10"/><stop offset="1.000" stop-color="#3f9e10"/></linearGradient><linearGradient id="t160" gradientUnits="userSpaceOnUse" x1="251.7" y1="266.2" x2="280.7" y2="262.8"><stop offset="0.000" stop-color="#158910"/><stop offset="1.000" stop-color="#3f9e10"/></linearGradient><linearGradient id="t161" gradientUnits="userSpaceOnUse" x1="267.7" y1="238.5" x2="278.7" y2="255.5"><stop offset="0.000" stop-color="#158910"/><stop offset="1.000" stop-color="#3f9e10"/></linearGradient><linearGradient id="t162" gradientUnits="userSpaceOnUse" x1="239.7" y1="275.8" x2="260.8" y2="273.6"><stop offset="0.000" stop-color="#10811b"/><stop offset="0.400" stop-color="#108710"/><stop offset="1.000" stop-color="#218f10"/></linearGradient><linearGradient id="t163" gradientUnits="userSpaceOnUse" x1="239.7" y1="275.8" x2="238.6" y2="250.5"><stop offset="0.000" stop-color="#10811b"/><stop offset="0.667" stop-color="#108710"/><stop offset="1.000" stop-color="#158910"/></linearGradient><linearGradient id="t164" gradientUnits="userSpaceOnUse" x1="219.2" y1="287.7" x2="236.0" y2="271.9"><stop offset="0.000" stop-color="#106357"/><stop offset="1.000" stop-color="#10811b"/></linearGradient><linearGradient id="t165" gradientUnits="userSpaceOnUse" x1="213.8" y1="275.0" x2="229.8" y2="259.4"><stop offset="0.000" stop-color="#10694b"/><stop offset="1.000" stop-color="#108710"/></linearGradient><linearGradient id="t166" gradientUnits="userSpaceOnUse" x1="198.3" y1="299.8" x2="218.7" y2="280.4"><stop offset="0.000" stop-color="#104592"/><stop offset="1.000" stop-color="#10694b"/></linearGradient><linearGradient id="t167" gradientUnits="userSpaceOnUse" x1="198.3" y1="299.8" x2="219.0" y2="281.5"><stop offset="0.000" stop-color="#104592"/><stop offset="1.000" stop-color="#10694b"/></linearGradient><linearGradient id="t168" gradientUnits="userSpaceOnUse" x1="431.2" y1="198.1" x2="418.2" y2="207.7"><stop offset="0.000" stop-color="#339810"/><stop offset="1.000" stop-color="#6bb410"/></linearGradient><linearGradient id="t169" gradientUnits="userSpaceOnUse" x1="429.2" y1="197.0" x2="418.2" y2="207.7"><stop offset="0.000" stop-color="#3c9d10"/><stop offset="1.000" stop-color="#6bb410"/></linearGradient><linearGradient id="t170" gradientUnits="userSpaceOnUse" x1="411.2" y1="202.1" x2="401.9" y2="213.7"><stop offset="0.000" stop-color="#6bb410"/><stop offset="1.000" stop-color="#a4d010"/></linearGradient><linearGradient id="t171" gradientUnits="userSpaceOnUse" x1="405.3" y1="194.5" x2="394.0" y2="205.5"><stop offset="0.000" stop-color="#6bb410"/><stop offset="1.000" stop-color="#9bcc10"/></linearGradient><linearGradient id="t172" gradientUnits="userSpaceOnUse" x1="376.0" y1="213.4" x2="388.9" y2="226.5"><stop offset="0.000" stop-color="#9bcc10"/><stop offset="1.000" stop-color="#a4d010"/></linearGradient><linearGradient id="t173" gradientUnits="userSpaceOnUse" x1="369.5" y1="217.4" x2="384.6" y2="222.1"><stop offset="0.000" stop-color="#76b910"/><stop offset="1.000" stop-color="#a1cf10"/></linearGradient><linearGradient id="t174" gradientUnits="userSpaceOnUse" x1="359.4" y1="216.6" x2="367.1" y2="231.4"><stop offset="0.000" stop-color="#51a710"/><stop offset="1.000" stop-color="#a1cf10"/></linearGradient><linearGradient id="t175" gradientUnits="userSpaceOnUse" x1="358.7" y1="205.5" x2="387.0" y2="214.8"><stop offset="0.000" stop-color="#51a710"/><stop offset="1.000" stop-color="#a1cf10"/></linearGradient><linearGradient id="t176" gradientUnits="userSpaceOnUse" x1="342.5" y1="223.9" x2="348.6" y2="239.4"><stop offset="0.000" stop-color="#51a710"/><stop offset="1.000" stop-color="#a4d110"/></linearGradient><linearGradient id="t177" gradientUnits="userSpaceOnUse" x1="343.1" y1="223.1" x2="348.6" y2="239.4"><stop offset="0.000" stop-color="#51a710"/><stop offset="1.000" stop-color="#a4d110"/></linearGradient><linearGradient id="t178" gradientUnits="userSpaceOnUse" x1="324.1" y1="233.3" x2="329.9" y2="248.2"><stop offset="0.000" stop-color="#63b010"/><stop offset="1.000" stop-color="#abd410"/></linearGradient><linearGradient id="t179" gradientUnits="userSpaceOnUse" x1="336.4" y1="227.3" x2="341.3" y2="241.9"><stop offset="0.000" stop-color="#5aac10"/><stop offset="1.000" stop-color="#a4d110"/></linearGradient><linearGradient id="t180" gradientUnits="userSpaceOnUse" x1="303.9" y1="253.5" x2="317.3" y2="264.1"><stop offset="0.000" stop-color="#63b010"/><stop offset="1.000" stop-color="#abd410"/></linearGradient><linearGradient id="t181" gradientUnits="userSpaceOnUse" x1="298.4" y1="245.8" x2="310.5" y2="258.8"><stop offset="0.000" stop-color="#51a710"/><stop offset="1.000" stop-color="#87c210"/></linearGradient><linearGradient id="t182" gradientUnits="userSpaceOnUse" x1="276.4" y1="264.8" x2="305.3" y2="274.4"><stop offset="0.000" stop-color="#3f9e10"/><stop offset="1.000" stop-color="#87c210"/></linearGradient><linearGradient id="t183" gradientUnits="userSpaceOnUse" x1="295.0" y1="240.7" x2="311.2" y2="258.2"><stop offset="0.000" stop-color="#3f9e10"/><stop offset="1.000" stop-color="#87c210"/></linearGradient><linearGradient id="t184" gradientUnits="userSpaceOnUse" x1="270.6" y1="281.2" x2="289.3" y2="283.2"><stop offset="0.000" stop-color="#2d9510"/><stop offset="1.000" stop-color="#63b010"/></linearGradient><linearGradient id="t185" gradientUnits="userSpaceOnUse" x1="262.3" y1="282.4" x2="283.1" y2="279.5"><stop offset="0.000" stop-color="#218f10"/><stop offset="1.000" stop-color="#3f9e10"/></linearGradient><linearGradient id="t186" gradientUnits="userSpaceOnUse" x1="250.1" y1="293.1" x2="266.0" y2="276.8"><stop offset="0.000" stop-color="#107b27"/><stop offset="0.444" stop-color="#108710"/><stop offset="1.000" stop-color="#2d9510"/></linearGradient><linearGradient id="t187" gradientUnits="userSpaceOnUse" x1="238.7" y1="267.9" x2="268.4" y2="264.1"><stop offset="0.000" stop-color="#10811b"/><stop offset="0.286" stop-color="#108710"/><stop offset="1.000" stop-color="#2d9510"/></linearGradient><linearGradient id="t188" gradientUnits="userSpaceOnUse" x1="229.2" y1="305.4" x2="249.3" y2="285.6"><stop offset="0.000" stop-color="#105d63"/><stop offset="1.000" stop-color="#10811b"/></linearGradient><linearGradient id="t189" gradientUnits="userSpaceOnUse" x1="229.2" y1="305.4" x2="249.6" y2="286.6"><stop offset="0.000" stop-color="#105d63"/><stop offset="1.000" stop-color="#10811b"/></linearGradient><linearGradient id="t190" gradientUnits="userSpaceOnUse" x1="207.9" y1="317.9" x2="226.1" y2="301.9"><stop offset="0.000" stop-color="#103f9e"/><stop offset="1.000" stop-color="#105d63"/></linearGradient><linearGradient id="t191" gradientUnits="userSpaceOnUse" x1="201.9" y1="303.7" x2="219.2" y2="287.7"><stop offset="0.000" stop-color="#104592"/><stop offset="1.000" stop-color="#106357"/></linearGradient><linearGradient id="t192" gradientUnits="userSpaceOnUse" x1="444.9" y1="226.9" x2="415.7" y2="221.4"><stop offset="0.000" stop-color="#106c45"/><stop offset="0.367" stop-color="#108710"/><stop offset="1.000" stop-color="#6bb410"/></linearGradient><linearGradient id="t193" gradientUnits="userSpaceOnUse" x1="450.6" y1="209.8" x2="423.4" y2="196.9"><stop offset="0.000" stop-color="#106c45"/><stop offset="0.367" stop-color="#108710"/><stop offset="1.000" stop-color="#6bb410"/></linearGradient><linearGradient id="t194" gradientUnits="userSpaceOnUse" x1="429.0" y1="233.3" x2="413.5" y2="229.9"><stop offset="0.000" stop-color="#208f10"/><stop offset="1.000" stop-color="#6bb410"/></linearGradient><linearGradient id="t195" gradientUnits="userSpaceOnUse" x1="414.7" y1="230.2" x2="399.0" y2="226.6"><stop offset="0.000" stop-color="#65b110"/><stop offset="1.000" stop-color="#a4d010"/></linearGradient><linearGradient id="t196" gradientUnits="userSpaceOnUse" x1="401.5" y1="242.8" x2="383.2" y2="223.5"><stop offset="0.000" stop-color="#65b110"/><stop offset="1.000" stop-color="#a1cf10"/></linearGradient><linearGradient id="t197" gradientUnits="userSpaceOnUse" x1="409.8" y1="232.3" x2="401.9" y2="213.7"><stop offset="0.000" stop-color="#65b110"/><stop offset="1.000" stop-color="#a4d010"/></linearGradient><linearGradient id="t198" gradientUnits="userSpaceOnUse" x1="383.6" y1="251.3" x2="369.6" y2="236.2"><stop offset="0.000" stop-color="#73b810"/><stop offset="1.000" stop-color="#a1cf10"/></linearGradient><linearGradient id="t199" gradientUnits="userSpaceOnUse" x1="379.5" y1="246.9" x2="372.1" y2="226.8"><stop offset="0.000" stop-color="#80bf10"/><stop offset="1.000" stop-color="#a1cf10"/></linearGradient><linearGradient id="t200" gradientUnits="userSpaceOnUse" x1="361.0" y1="256.3" x2="354.3" y2="237.3"><stop offset="0.000" stop-color="#7bbc10"/><stop offset="1.000" stop-color="#a4d110"/></linearGradient><linearGradient id="t201" gradientUnits="userSpaceOnUse" x1="379.5" y1="246.9" x2="364.1" y2="227.3"><stop offset="0.000" stop-color="#80bf10"/><stop offset="1.000" stop-color="#a4d110"/></linearGradient><linearGradient id="t202" gradientUnits="userSpaceOnUse" x1="342.0" y1="266.0" x2="334.4" y2="244.5"><stop offset="0.000" stop-color="#75b910"/><stop offset="1.000" stop-color="#a4d110"/></linearGradient><linearGradient id="t203" gradientUnits="userSpaceOnUse" x1="342.0" y1="266.0" x2="330.5" y2="247.8"><stop offset="0.000" stop-color="#75b910"/><stop offset="1.000" stop-color="#abd410"/></linearGradient><linearGradient id="t204" gradientUnits="userSpaceOnUse" x1="322.5" y1="276.8" x2="323.0" y2="259.1"><stop offset="0.000" stop-color="#54a910"/><stop offset="1.000" stop-color="#87c210"/></linearGradient><linearGradient id="t205" gradientUnits="userSpaceOnUse" x1="329.0" y1="265.3" x2="329.9" y2="248.2"><stop offset="0.000" stop-color="#75b910"/><stop offset="1.000" stop-color="#abd410"/></linearGradient><linearGradient id="t206" gradientUnits="userSpaceOnUse" x1="302.4" y1="288.0" x2="303.1" y2="258.6"><stop offset="0.000" stop-color="#339810"/><stop offset="1.000" stop-color="#87c210"/></linearGradient><linearGradient id="t207" gradientUnits="userSpaceOnUse" x1="302.4" y1="288.0" x2="305.8" y2="258.2"><stop offset="0.000" stop-color="#339810"/><stop offset="1.000" stop-color="#87c210"/></linearGradient><linearGradient id="t208" gradientUnits="userSpaceOnUse" x1="281.9" y1="299.5" x2="286.9" y2="283.2"><stop offset="0.000" stop-color="#108710"/><stop offset="1.000" stop-color="#339810"/></linearGradient><linearGradient id="t209" gradientUnits="userSpaceOnUse" x1="286.4" y1="285.5" x2="290.8" y2="269.6"><stop offset="0.000" stop-color="#2d9510"/><stop offset="1.000" stop-color="#63b010"/></linearGradient><linearGradient id="t210" gradientUnits="userSpaceOnUse" x1="261.0" y1="311.2" x2="269.8" y2="281.0"><stop offset="0.000" stop-color="#107533"/><stop offset="0.545" stop-color="#108710"/><stop offset="1.000" stop-color="#2d9510"/></linearGradient><linearGradient id="t211" gradientUnits="userSpaceOnUse" x1="261.0" y1="311.2" x2="280.8" y2="291.4"><stop offset="0.000" stop-color="#107533"/><stop offset="0.545" stop-color="#108710"/><stop offset="1.000" stop-color="#2d9510"/></linearGradient><linearGradient id="t212" gradientUnits="userSpaceOnUse" x1="239.8" y1="324.4" x2="254.3" y2="305.9"><stop offset="0.000" stop-color="#104f7d"/><stop offset="1.000" stop-color="#107533"/></linearGradient><linearGradient id="t213" gradientUnits="userSpaceOnUse" x1="233.1" y1="309.5" x2="250.1" y2="293.1"><stop offset="0.000" stop-color="#105d63"/><stop offset="1.000" stop-color="#107b27"/></linearGradient><linearGradient id="t214" gradientUnits="userSpaceOnUse" x1="218.2" y1="337.9" x2="238.0" y2="312.3"><stop offset="0.000" stop-color="#102ac7"/><stop offset="1.000" stop-color="#105d63"/></linearGradient><linearGradient id="t215" gradientUnits="userSpaceOnUse" x1="218.2" y1="337.9" x2="232.1" y2="306.7"><stop offset="0.000" stop-color="#102ac7"/><stop offset="1.000" stop-color="#105d63"/></linearGradient><linearGradient id="t216" gradientUnits="userSpaceOnUse" x1="458.2" y1="243.6" x2="443.0" y2="241.2"><stop offset="0.000" stop-color="#103f9e"/><stop offset="1.000" stop-color="#106c45"/></linearGradient><linearGradient id="t217" gradientUnits="userSpaceOnUse" x1="444.0" y1="241.4" x2="428.5" y2="238.8"><stop offset="0.000" stop-color="#10694b"/><stop offset="0.784" stop-color="#108710"/><stop offset="1.000" stop-color="#208f10"/></linearGradient><linearGradient id="t218" gradientUnits="userSpaceOnUse" x1="444.2" y1="246.4" x2="415.6" y2="247.9"><stop offset="0.000" stop-color="#10694b"/><stop offset="0.408" stop-color="#108710"/><stop offset="1.000" stop-color="#65b110"/></linearGradient><linearGradient id="t219" gradientUnits="userSpaceOnUse" x1="446.7" y1="227.3" x2="416.4" y2="221.5"><stop offset="0.000" stop-color="#10694b"/><stop offset="0.408" stop-color="#108710"/><stop offset="1.000" stop-color="#65b110"/></linearGradient><linearGradient id="t220" gradientUnits="userSpaceOnUse" x1="418.7" y1="260.8" x2="401.7" y2="249.3"><stop offset="0.000" stop-color="#279210"/><stop offset="1.000" stop-color="#65b110"/></linearGradient><linearGradient id="t221" gradientUnits="userSpaceOnUse" x1="410.6" y1="255.3" x2="395.7" y2="240.0"><stop offset="0.000" stop-color="#45a110"/><stop offset="1.000" stop-color="#73b810"/></linearGradient><linearGradient id="t222" gradientUnits="userSpaceOnUse" x1="408.5" y1="266.6" x2="377.0" y2="260.7"><stop offset="0.000" stop-color="#45a110"/><stop offset="1.000" stop-color="#80bf10"/></linearGradient><linearGradient id="t223" gradientUnits="userSpaceOnUse" x1="412.1" y1="253.9" x2="393.1" y2="233.9"><stop offset="0.000" stop-color="#45a110"/><stop offset="1.000" stop-color="#80bf10"/></linearGradient><linearGradient id="t224" gradientUnits="userSpaceOnUse" x1="374.0" y1="273.9" x2="373.8" y2="246.9"><stop offset="0.000" stop-color="#51a710"/><stop offset="1.000" stop-color="#80bf10"/></linearGradient><linearGradient id="t225" gradientUnits="userSpaceOnUse" x1="374.0" y1="273.9" x2="366.2" y2="251.5"><stop offset="0.000" stop-color="#51a710"/><stop offset="1.000" stop-color="#80bf10"/></linearGradient><linearGradient id="t226" gradientUnits="userSpaceOnUse" x1="354.7" y1="284.5" x2="350.9" y2="264.3"><stop offset="0.000" stop-color="#3f9e10"/><stop offset="1.000" stop-color="#75b910"/></linearGradient><linearGradient id="t227" gradientUnits="userSpaceOnUse" x1="368.0" y1="276.0" x2="361.0" y2="256.3"><stop offset="0.000" stop-color="#51a710"/><stop offset="1.000" stop-color="#7bbc10"/></linearGradient><linearGradient id="t228" gradientUnits="userSpaceOnUse" x1="334.9" y1="295.7" x2="333.7" y2="266.3"><stop offset="0.000" stop-color="#218f10"/><stop offset="1.000" stop-color="#75b910"/></linearGradient><linearGradient id="t229" gradientUnits="userSpaceOnUse" x1="334.9" y1="295.7" x2="336.3" y2="265.7"><stop offset="0.000" stop-color="#218f10"/><stop offset="1.000" stop-color="#75b910"/></linearGradient><linearGradient id="t230" gradientUnits="userSpaceOnUse" x1="314.6" y1="307.1" x2="314.9" y2="288.2"><stop offset="0.000" stop-color="#10811b"/><stop offset="0.250" stop-color="#108710"/><stop offset="1.000" stop-color="#339810"/></linearGradient><linearGradient id="t231" gradientUnits="userSpaceOnUse" x1="321.8" y1="295.2" x2="322.5" y2="276.8"><stop offset="0.000" stop-color="#218f10"/><stop offset="1.000" stop-color="#54a910"/></linearGradient><linearGradient id="t232" gradientUnits="userSpaceOnUse" x1="293.8" y1="318.5" x2="289.1" y2="290.2"><stop offset="0.000" stop-color="#10782d"/><stop offset="0.455" stop-color="#108710"/><stop offset="1.000" stop-color="#339810"/></linearGradient><linearGradient id="t233" gradientUnits="userSpaceOnUse" x1="293.8" y1="318.5" x2="303.7" y2="288.4"><stop offset="0.000" stop-color="#10782d"/><stop offset="0.455" stop-color="#108710"/><stop offset="1.000" stop-color="#339810"/></linearGradient><linearGradient id="t234" gradientUnits="userSpaceOnUse" x1="272.4" y1="330.2" x2="280.1" y2="312.6"><stop offset="0.000" stop-color="#106f3f"/><stop offset="1.000" stop-color="#10782d"/></linearGradient><linearGradient id="t235" gradientUnits="userSpaceOnUse" x1="276.7" y1="316.2" x2="281.9" y2="299.5"><stop offset="0.000" stop-color="#107533"/><stop offset="1.000" stop-color="#108710"/></linearGradient><linearGradient id="t236" gradientUnits="userSpaceOnUse" x1="250.8" y1="344.4" x2="273.1" y2="325.7"><stop offset="0.000" stop-color="#104298"/><stop offset="1.000" stop-color="#107533"/></linearGradient><linearGradient id="t237" gradientUnits="userSpaceOnUse" x1="250.8" y1="344.4" x2="271.1" y2="319.4"><stop offset="0.000" stop-color="#104298"/><stop offset="1.000" stop-color="#107533"/></linearGradient><linearGradient id="t238" gradientUnits="userSpaceOnUse" x1="229.0" y1="358.8" x2="242.5" y2="338.7"><stop offset="0.000" stop-color="#1015f1"/><stop offset="1.000" stop-color="#104298"/></linearGradient><linearGradient id="t239" gradientUnits="userSpaceOnUse" x1="224.8" y1="343.2" x2="239.8" y2="324.4"><stop offset="0.000" stop-color="#102ac7"/><stop offset="1.000" stop-color="#104f7d"/></linearGradient><linearGradient id="t240" gradientUnits="userSpaceOnUse" x1="464.7" y1="268.6" x2="437.3" y2="253.1"><stop offset="0.000" stop-color="#442ac8"/><stop offset="0.424" stop-color="#1010fd"/><stop offset="1.000" stop-color="#10694b"/></linearGradient><linearGradient id="t241" gradientUnits="userSpaceOnUse" x1="477.1" y1="250.1" x2="452.9" y2="230.4"><stop offset="0.000" stop-color="#442ac8"/><stop offset="0.424" stop-color="#1010fd"/><stop offset="1.000" stop-color="#10694b"/></linearGradient><linearGradient id="t242" gradientUnits="userSpaceOnUse" x1="449.0" y1="274.7" x2="430.6" y2="263.6"><stop offset="0.000" stop-color="#1b15f1"/><stop offset="0.144" stop-color="#1010fd"/><stop offset="1.000" stop-color="#10694b"/></linearGradient><linearGradient id="t243" gradientUnits="userSpaceOnUse" x1="440.0" y1="269.3" x2="421.5" y2="256.5"><stop offset="0.000" stop-color="#1033b6"/><stop offset="0.875" stop-color="#108710"/><stop offset="1.000" stop-color="#279210"/></linearGradient><linearGradient id="t244" gradientUnits="userSpaceOnUse" x1="429.9" y1="282.1" x2="405.0" y2="262.4"><stop offset="0.000" stop-color="#1033b6"/><stop offset="0.757" stop-color="#108710"/><stop offset="1.000" stop-color="#45a110"/></linearGradient><linearGradient id="t245" gradientUnits="userSpaceOnUse" x1="442.8" y1="267.3" x2="425.6" y2="244.2"><stop offset="0.000" stop-color="#1033b6"/><stop offset="0.757" stop-color="#108710"/><stop offset="1.000" stop-color="#45a110"/></linearGradient><linearGradient id="t246" gradientUnits="userSpaceOnUse" x1="412.3" y1="290.1" x2="394.3" y2="275.3"><stop offset="0.000" stop-color="#10517a"/><stop offset="0.667" stop-color="#108710"/><stop offset="1.000" stop-color="#45a110"/></linearGradient><linearGradient id="t247" gradientUnits="userSpaceOnUse" x1="405.6" y1="284.6" x2="389.7" y2="266.4"><stop offset="0.000" stop-color="#106f3f"/><stop offset="0.364" stop-color="#108710"/><stop offset="1.000" stop-color="#63b010"/></linearGradient><linearGradient id="t248" gradientUnits="userSpaceOnUse" x1="388.1" y1="296.1" x2="373.6" y2="274.1"><stop offset="0.000" stop-color="#106f3f"/><stop offset="0.421" stop-color="#108710"/><stop offset="1.000" stop-color="#51a710"/></linearGradient><linearGradient id="t249" gradientUnits="userSpaceOnUse" x1="400.9" y1="286.3" x2="392.7" y2="263.7"><stop offset="0.000" stop-color="#106f3f"/><stop offset="0.364" stop-color="#108710"/><stop offset="1.000" stop-color="#63b010"/></linearGradient><linearGradient id="t250" gradientUnits="userSpaceOnUse" x1="368.9" y1="306.2" x2="355.6" y2="285.9"><stop offset="0.000" stop-color="#107336"/><stop offset="0.371" stop-color="#108710"/><stop offset="1.000" stop-color="#51a710"/></linearGradient><linearGradient id="t251" gradientUnits="userSpaceOnUse" x1="367.7" y1="304.5" x2="360.6" y2="277.5"><stop offset="0.000" stop-color="#10782d"/><stop offset="0.312" stop-color="#108710"/><stop offset="1.000" stop-color="#51a710"/></linearGradient><linearGradient id="t252" gradientUnits="userSpaceOnUse" x1="347.8" y1="315.7" x2="342.3" y2="293.8"><stop offset="0.000" stop-color="#106f3f"/><stop offset="0.727" stop-color="#108710"/><stop offset="1.000" stop-color="#218f10"/></linearGradient><linearGradient id="t253" gradientUnits="userSpaceOnUse" x1="357.7" y1="305.9" x2="354.7" y2="284.5"><stop offset="0.000" stop-color="#10782d"/><stop offset="0.385" stop-color="#108710"/><stop offset="1.000" stop-color="#3f9e10"/></linearGradient><linearGradient id="t254" gradientUnits="userSpaceOnUse" x1="327.3" y1="327.3" x2="320.2" y2="299.4"><stop offset="0.000" stop-color="#106651"/><stop offset="0.786" stop-color="#108710"/><stop offset="1.000" stop-color="#218f10"/></linearGradient><linearGradient id="t255" gradientUnits="userSpaceOnUse" x1="327.3" y1="327.3" x2="326.9" y2="295.7"><stop offset="0.000" stop-color="#106651"/><stop offset="0.786" stop-color="#108710"/><stop offset="1.000" stop-color="#218f10"/></linearGradient><linearGradient id="t256" gradientUnits="userSpaceOnUse" x1="306.2" y1="339.7" x2="304.4" y2="317.6"><stop offset="0.000" stop-color="#105571"/><stop offset="1.000" stop-color="#10782d"/></linearGradient><linearGradient id="t257" gradientUnits="userSpaceOnUse" x1="318.6" y1="328.9" x2="314.6" y2="307.1"><stop offset="0.000" stop-color="#106651"/><stop offset="1.000" stop-color="#10811b"/></linearGradient><linearGradient id="t258" gradientUnits="userSpaceOnUse" x1="284.6" y1="352.3" x2="281.6" y2="319.7"><stop offset="0.000" stop-color="#104592"/><stop offset="1.000" stop-color="#10782d"/></linearGradient><linearGradient id="t259" gradientUnits="userSpaceOnUse" x1="284.6" y1="352.3" x2="276.3" y2="323.6"><stop offset="0.000" stop-color="#104592"/><stop offset="1.000" stop-color="#10782d"/></linearGradient><linearGradient id="t260" gradientUnits="userSpaceOnUse" x1="262.7" y1="366.9" x2="268.0" y2="347.8"><stop offset="0.000" stop-color="#1018eb"/><stop offset="1.000" stop-color="#104592"/></linearGradient><linearGradient id="t261" gradientUnits="userSpaceOnUse" x1="267.3" y1="348.9" x2="272.4" y2="330.2"><stop offset="0.000" stop-color="#104298"/><stop offset="1.000" stop-color="#106f3f"/></linearGradient><linearGradient id="t262" gradientUnits="userSpaceOnUse" x1="240.5" y1="381.7" x2="250.5" y2="344.3"><stop offset="0.000" stop-color="#2c1ee0"/><stop offset="0.414" stop-color="#1010fd"/><stop offset="1.000" stop-color="#104298"/></linearGradient><linearGradient id="t263" gradientUnits="userSpaceOnUse" x1="240.5" y1="381.7" x2="251.6" y2="344.6"><stop offset="0.000" stop-color="#2c1ee0"/><stop offset="0.414" stop-color="#1010fd"/><stop offset="1.000" stop-color="#104298"/></linearGradient><linearGradient id="t264" gradientUnits="userSpaceOnUse" x1="477.2" y1="290.6" x2="459.1" y2="281.7"><stop offset="0.000" stop-color="#6e3f9e"/><stop offset="0.530" stop-color="#6e3f9e"/><stop offset="1.000" stop-color="#442ac8"/></linearGradient><linearGradient id="t265" gradientUnits="userSpaceOnUse" x1="467.6" y1="285.9" x2="449.0" y2="275.5"><stop offset="0.000" stop-color="#6e3f9e"/><stop offset="0.003" stop-color="#6e3f9e"/><stop offset="1.000" stop-color="#1b15f1"/></linearGradient><linearGradient id="t266" gradientUnits="userSpaceOnUse" x1="463.8" y1="296.0" x2="434.2" y2="284.8"><stop offset="0.000" stop-color="#6e3f9e"/><stop offset="0.002" stop-color="#6e3f9e"/><stop offset="0.770" stop-color="#1010fd"/><stop offset="1.000" stop-color="#1033b6"/></linearGradient><linearGradient id="t267" gradientUnits="userSpaceOnUse" x1="474.4" y1="274.6" x2="446.7" y2="258.2"><stop offset="0.000" stop-color="#6e3f9e"/><stop offset="0.002" stop-color="#6e3f9e"/><stop offset="0.770" stop-color="#1010fd"/><stop offset="1.000" stop-color="#1033b6"/></linearGradient><linearGradient id="t268" gradientUnits="userSpaceOnUse" x1="444.8" y1="304.1" x2="425.9" y2="292.6"><stop offset="0.000" stop-color="#3f27cd"/><stop offset="0.625" stop-color="#1010fd"/><stop offset="1.000" stop-color="#1033b6"/></linearGradient><linearGradient id="t269" gradientUnits="userSpaceOnUse" x1="436.0" y1="298.7" x2="417.4" y2="284.3"><stop offset="0.000" stop-color="#1b15f1"/><stop offset="0.185" stop-color="#1010fd"/><stop offset="1.000" stop-color="#10517a"/></linearGradient><linearGradient id="t270" gradientUnits="userSpaceOnUse" x1="431.5" y1="310.8" x2="400.2" y2="299.2"><stop offset="0.000" stop-color="#1b15f1"/><stop offset="0.135" stop-color="#1010fd"/><stop offset="1.000" stop-color="#106f3f"/></linearGradient><linearGradient id="t271" gradientUnits="userSpaceOnUse" x1="441.6" y1="291.7" x2="416.3" y2="271.3"><stop offset="0.000" stop-color="#1b15f1"/><stop offset="0.135" stop-color="#1010fd"/><stop offset="1.000" stop-color="#106f3f"/></linearGradient><linearGradient id="t272" gradientUnits="userSpaceOnUse" x1="405.1" y1="320.1" x2="387.6" y2="303.1"><stop offset="0.000" stop-color="#102dc1"/><stop offset="1.000" stop-color="#106f3f"/></linearGradient><linearGradient id="t273" gradientUnits="userSpaceOnUse" x1="400.4" y1="315.5" x2="386.6" y2="294.6"><stop offset="0.000" stop-color="#103f9e"/><stop offset="1.000" stop-color="#107336"/></linearGradient><linearGradient id="t274" gradientUnits="userSpaceOnUse" x1="390.0" y1="331.0" x2="362.3" y2="312.6"><stop offset="0.000" stop-color="#103f9e"/><stop offset="1.000" stop-color="#10782d"/></linearGradient><linearGradient id="t275" gradientUnits="userSpaceOnUse" x1="400.7" y1="315.3" x2="385.8" y2="292.6"><stop offset="0.000" stop-color="#103f9e"/><stop offset="1.000" stop-color="#10782d"/></linearGradient><linearGradient id="t276" gradientUnits="userSpaceOnUse" x1="361.1" y1="336.6" x2="350.0" y2="312.7"><stop offset="0.000" stop-color="#104e80"/><stop offset="1.000" stop-color="#10782d"/></linearGradient><linearGradient id="t277" gradientUnits="userSpaceOnUse" x1="361.1" y1="336.6" x2="354.3" y2="307.6"><stop offset="0.000" stop-color="#104e80"/><stop offset="1.000" stop-color="#10782d"/></linearGradient><linearGradient id="t278" gradientUnits="userSpaceOnUse" x1="340.5" y1="348.4" x2="330.9" y2="325.8"><stop offset="0.000" stop-color="#104b86"/><stop offset="1.000" stop-color="#106651"/></linearGradient><linearGradient id="t279" gradientUnits="userSpaceOnUse" x1="353.3" y1="338.5" x2="347.8" y2="315.7"><stop offset="0.000" stop-color="#104e80"/><stop offset="1.000" stop-color="#106f3f"/></linearGradient><linearGradient id="t280" gradientUnits="userSpaceOnUse" x1="319.1" y1="361.7" x2="324.7" y2="326.9"><stop offset="0.000" stop-color="#1033b6"/><stop offset="1.000" stop-color="#106651"/></linearGradient><linearGradient id="t281" gradientUnits="userSpaceOnUse" x1="319.1" y1="361.7" x2="316.8" y2="328.0"><stop offset="0.000" stop-color="#1033b6"/><stop offset="1.000" stop-color="#106651"/></linearGradient><linearGradient id="t282" gradientUnits="userSpaceOnUse" x1="297.2" y1="375.3" x2="296.8" y2="352.1"><stop offset="0.000" stop-color="#101be5"/><stop offset="1.000" stop-color="#104592"/></linearGradient><linearGradient id="t283" gradientUnits="userSpaceOnUse" x1="307.9" y1="362.5" x2="306.2" y2="339.7"><stop offset="0.000" stop-color="#1033b6"/><stop offset="1.000" stop-color="#105571"/></linearGradient><linearGradient id="t284" gradientUnits="userSpaceOnUse" x1="275.0" y1="390.3" x2="285.1" y2="352.5"><stop offset="0.000" stop-color="#2a1de3"/><stop offset="0.379" stop-color="#1010fd"/><stop offset="1.000" stop-color="#104592"/></linearGradient><linearGradient id="t285" gradientUnits="userSpaceOnUse" x1="275.0" y1="390.3" x2="286.2" y2="352.8"><stop offset="0.000" stop-color="#2a1de3"/><stop offset="0.379" stop-color="#1010fd"/><stop offset="1.000" stop-color="#104592"/></linearGradient><linearGradient id="t286" gradientUnits="userSpaceOnUse" x1="252.5" y1="405.5" x2="258.3" y2="385.5"><stop offset="0.000" stop-color="#4d2ebf"/><stop offset="1.000" stop-color="#2a1de3"/></linearGradient><linearGradient id="t287" gradientUnits="userSpaceOnUse" x1="257.0" y1="386.5" x2="262.7" y2="366.9"><stop offset="0.000" stop-color="#2c1ee0"/><stop offset="0.800" stop-color="#1010fd"/><stop offset="1.000" stop-color="#1018eb"/></linearGradient>
<linearGradient id="cbg" x1="0" y1="0" x2="0" y2="1"><stop offset="-0.0000" stop-color="rgb(255, 0, 0)"/><stop offset="0.4000" stop-color="rgb(255, 0, 0)"/><stop offset="0.4500" stop-color="rgb(255, 255, 0)"/><stop offset="0.5000" stop-color="rgb(0, 128, 0)"/><stop offset="0.5500" stop-color="rgb(0, 0, 255)"/><stop offset="0.6000" stop-color="rgb(102, 51, 153)"/><stop offset="1.0000" stop-color="rgb(102, 51, 153)"/></linearGradient></defs>
<g clip-path="url(#sc)">
<g id="grid"><path class="g" d="M296.5 435.4L191.3 248.9"/><path class="g" d="M238.4 420.0L444.0 302.8"/><path class="g" d="M326.5 417.3L216.5 237.9"/><path class="g" d="M223.7 390.8L425.0 281.3"/><path class="g" d="M355.2 399.9L240.9 227.2"/><path class="g" d="M210.0 363.6L407.2 261.0"/><path class="g" d="M382.7 383.3L264.4 216.9"/><path class="g" d="M197.2 338.3L390.4 241.9"/><path class="g" d="M409.1 367.3L287.2 207.0"/><path class="g" d="M185.3 314.5L374.6 223.9"/><path class="g" d="M434.5 352.0L309.3 197.3"/><path class="g" d="M174.1 292.3L359.6 206.8"/><path class="g" d="M458.8 337.2L330.7 188.0"/><path class="g" d="M163.6 271.4L345.4 190.7"/><path class="g v" d="M191.3 248.9L140.0 67.3"/><path class="g v" d="M216.5 237.9L177.5 55.8"/><path class="g v" d="M240.9 227.2L213.3 44.9"/><path class="g v" d="M264.4 216.9L247.4 34.5"/><path class="g v" d="M287.2 207.0L280.0 24.6"/><path class="g v" d="M309.3 197.3L311.1 15.1"/><path class="g v" d="M330.7 188.0L340.9 6.0"/><path class="g" d="M91.4 82.1L353.1 2.3"/><path class="g" d="M113.7 141.5L348.8 59.9"/><path class="g" d="M146.7 229.4L342.2 148.9"/><path class="g" d="M159.3 262.9L339.6 184.1"/><path class="g v" d="M444.0 302.8L514.9 125.8"/><path class="g v" d="M425.0 281.3L483.5 101.8"/><path class="g v" d="M407.2 261.0L454.9 79.9"/><path class="g v" d="M390.4 241.9L428.6 59.9"/><path class="g v" d="M374.6 223.9L404.4 41.4"/><path class="g v" d="M359.6 206.8L382.1 24.4"/><path class="g v" d="M345.4 190.7L361.4 8.6"/><path class="g" d="M557.8 158.5L353.1 2.3"/><path class="g" d="M527.6 217.1L348.8 59.9"/><path class="g" d="M484.7 300.4L342.2 148.9"/><path class="g" d="M468.9 331.1L339.6 184.1"/></g>
<g id="zero"><path class="zx" d="M265.1 454.4L165.3 260.3"/><path class="zx" d="M165.3 260.3L100.5 79.3"/><path class="zy" d="M254.2 451.4L464.2 325.8"/><path class="zy" d="M464.2 325.8L549.5 152.2"/><path class="zz" d="M131.8 189.6L345.2 108.0"/><path class="zz" d="M345.2 108.0L503.9 263.2"/></g>
<g id="surf"><path d="M338.2 129.7L353.1 123.6L328.7 117.8Z" fill="url(#t0)" stroke="url(#t0)"/><path d="M343.5 112.3L328.7 117.8L353.1 123.6Z" fill="url(#t1)" stroke="url(#t1)"/><path d="M322.9 136.0L338.2 129.7L328.7 117.8Z" fill="url(#t2)" stroke="url(#t2)"/><path d="M322.9 136.0L328.7 117.8L313.5 123.4Z" fill="url(#t3)" stroke="url(#t3)"/><path d="M307.3 139.9L322.9 136.0L298.0 128.5Z" fill="url(#t4)" stroke="url(#t4)"/><path d="M313.5 123.4L298.0 128.5L322.9 136.0Z" fill="url(#t5)" stroke="url(#t5)"/><path d="M291.2 143.9L307.3 139.9L298.0 128.5Z" fill="url(#t6)" stroke="url(#t6)"/><path d="M291.2 143.9L298.0 128.5L282.1 133.7Z" fill="url(#t7)" stroke="url(#t7)"/><path d="M274.7 151.3L291.2 143.9L265.8 140.0Z" fill="url(#t8)" stroke="url(#t8)"/><path d="M282.1 133.7L265.8 140.0L291.2 143.9Z" fill="url(#t9)" stroke="url(#t9)"/><path d="M257.9 158.9L274.7 151.3L265.8 140.0Z" fill="url(#t10)" stroke="url(#t10)"/><path d="M257.9 158.9L265.8 140.0L249.1 146.5Z" fill="url(#t11)" stroke="url(#t11)"/><path d="M240.6 165.7L257.9 158.9L232.1 153.4Z" fill="url(#t12)" stroke="url(#t12)"/><path d="M249.1 146.5L232.1 153.4L257.9 158.9Z" fill="url(#t13)" stroke="url(#t13)"/><path d="M223.0 172.7L240.6 165.7L232.1 153.4Z" fill="url(#t14)" stroke="url(#t14)"/><path d="M223.0 172.7L232.1 153.4L214.7 160.4Z" fill="url(#t15)" stroke="url(#t15)"/><path d="M205.1 181.0L223.0 172.7L197.0 168.0Z" fill="url(#t16)" stroke="url(#t16)"/><path d="M214.7 160.4L197.0 168.0L223.0 172.7Z" fill="url(#t17)" stroke="url(#t17)"/><path d="M186.9 189.5L205.1 181.0L197.0 168.0Z" fill="url(#t18)" stroke="url(#t18)"/><path d="M186.9 189.5L197.0 168.0L178.9 175.6Z" fill="url(#t19)" stroke="url(#t19)"/><path d="M168.7 199.4L186.9 189.5L161.0 185.5Z" fill="url(#t20)" stroke="url(#t20)"/><path d="M178.9 175.6L161.0 185.5L186.9 189.5Z" fill="url(#t21)" stroke="url(#t21)"/><path d="M150.2 209.6L168.7 199.4L161.0 185.5Z" fill="url(#t22)" stroke="url(#t22)"/><path d="M150.2 209.6L161.0 185.5L142.9 195.4Z" fill="url(#t23)" stroke="url(#t23)"/><path d="M348.0 142.0L363.1 135.2L353.1 123.6Z" fill="url(#t24)" stroke="url(#t24)"/><path d="M348.0 142.0L353.1 123.6L338.2 129.7Z" fill="url(#t25)" stroke="url(#t25)"/><path d="M332.5 149.0L348.0 142.0L322.9 136.0Z" fill="url(#t26)" stroke="url(#t26)"/><path d="M338.2 129.7L322.9 136.0L348.0 142.0Z" fill="url(#t27)" stroke="url(#t27)"/><path d="M316.9 151.7L332.5 149.0L322.9 136.0Z" fill="url(#t28)" stroke="url(#t28)"/><path d="M316.9 151.7L322.9 136.0L307.3 139.9Z" fill="url(#t29)" stroke="url(#t29)"/><path d="M300.6 154.5L316.9 151.7L291.2 143.9Z" fill="url(#t30)" stroke="url(#t30)"/><path d="M307.3 139.9L291.2 143.9L316.9 151.7Z" fill="url(#t31)" stroke="url(#t31)"/><path d="M283.9 163.0L300.6 154.5L291.2 143.9Z" fill="url(#t32)" stroke="url(#t32)"/><path d="M283.9 163.0L291.2 143.9L274.7 151.3Z" fill="url(#t33)" stroke="url(#t33)"/><path d="M267.0 171.7L283.9 163.0L257.9 158.9Z" fill="url(#t34)" stroke="url(#t34)"/><path d="M274.7 151.3L257.9 158.9L283.9 163.0Z" fill="url(#t35)" stroke="url(#t35)"/><path d="M249.5 178.5L267.0 171.7L257.9 158.9Z" fill="url(#t36)" stroke="url(#t36)"/><path d="M249.5 178.5L257.9 158.9L240.6 165.7Z" fill="url(#t37)" stroke="url(#t37)"/><path d="M231.5 185.4L249.5 178.5L223.0 172.7Z" fill="url(#t38)" stroke="url(#t38)"/><path d="M240.6 165.7L223.0 172.7L249.5 178.5Z" fill="url(#t39)" stroke="url(#t39)"/><path d="M213.4 194.5L231.5 185.4L223.0 172.7Z" fill="url(#t40)" stroke="url(#t40)"/><path d="M213.4 194.5L223.0 172.7L205.1 181.0Z" fill="url(#t41)" stroke="url(#t41)"/><path d="M195.1 203.8L213.4 194.5L186.9 189.5Z" fill="url(#t42)" stroke="url(#t42)"/><path d="M205.1 181.0L186.9 189.5L213.4 194.5Z" fill="url(#t43)" stroke="url(#t43)"/><path d="M176.6 213.9L195.1 203.8L186.9 189.5Z" fill="url(#t44)" stroke="url(#t44)"/><path d="M176.6 213.9L186.9 189.5L168.7 199.4Z" fill="url(#t45)" stroke="url(#t45)"/><path d="M157.8 224.2L176.6 213.9L150.2 209.6Z" fill="url(#t46)" stroke="url(#t46)"/><path d="M168.7 199.4L150.2 209.6L176.6 213.9Z" fill="url(#t47)" stroke="url(#t47)"/><path d="M358.6 150.1L373.9 143.8L348.0 142.0Z" fill="url(#t48)" stroke="url(#t48)"/><path d="M363.1 135.2L348.0 142.0L373.9 143.8Z" fill="url(#t49)" stroke="url(#t49)"/><path d="M342.9 156.4L358.6 150.1L348.0 142.0Z" fill="url(#t50)" stroke="url(#t50)"/><path d="M342.9 156.4L348.0 142.0L332.5 149.0Z" fill="url(#t51)" stroke="url(#t51)"/><path d="M327.0 160.8L342.9 156.4L316.9 151.7Z" fill="url(#t52)" stroke="url(#t52)"/><path d="M332.5 149.0L316.9 151.7L342.9 156.4Z" fill="url(#t53)" stroke="url(#t53)"/><path d="M310.5 165.3L327.0 160.8L316.9 151.7Z" fill="url(#t54)" stroke="url(#t54)"/><path d="M310.5 165.3L316.9 151.7L300.6 154.5Z" fill="url(#t55)" stroke="url(#t55)"/><path d="M293.5 173.5L310.5 165.3L283.9 163.0Z" fill="url(#t56)" stroke="url(#t56)"/><path d="M300.6 154.5L283.9 163.0L310.5 165.3Z" fill="url(#t57)" stroke="url(#t57)"/><path d="M276.2 181.8L293.5 173.5L283.9 163.0Z" fill="url(#t58)" stroke="url(#t58)"/><path d="M276.2 181.8L283.9 163.0L267.0 171.7Z" fill="url(#t59)" stroke="url(#t59)"/><path d="M258.4 189.3L276.2 181.8L249.5 178.5Z" fill="url(#t60)" stroke="url(#t60)"/><path d="M267.0 171.7L249.5 178.5L276.2 181.8Z" fill="url(#t61)" stroke="url(#t61)"/><path d="M240.2 197.0L258.4 189.3L249.5 178.5Z" fill="url(#t62)" stroke="url(#t62)"/><path d="M240.2 197.0L249.5 178.5L231.5 185.4Z" fill="url(#t63)" stroke="url(#t63)"/><path d="M221.7 206.0L240.2 197.0L213.4 194.5Z" fill="url(#t64)" stroke="url(#t64)"/><path d="M231.5 185.4L213.4 194.5L240.2 197.0Z" fill="url(#t65)" stroke="url(#t65)"/><path d="M202.8 215.2L221.7 206.0L213.4 194.5Z" fill="url(#t66)" stroke="url(#t66)"/><path d="M202.8 215.2L213.4 194.5L195.1 203.8Z" fill="url(#t67)" stroke="url(#t67)"/><path d="M183.9 225.9L202.8 215.2L176.6 213.9Z" fill="url(#t68)" stroke="url(#t68)"/><path d="M195.1 203.8L176.6 213.9L202.8 215.2Z" fill="url(#t69)" stroke="url(#t69)"/><path d="M164.8 236.8L183.9 225.9L176.6 213.9Z" fill="url(#t70)" stroke="url(#t70)"/><path d="M164.8 236.8L176.6 213.9L157.8 224.2Z" fill="url(#t71)" stroke="url(#t71)"/><path d="M369.8 158.5L385.2 152.8L373.9 143.8Z" fill="url(#t72)" stroke="url(#t72)"/><path d="M369.8 158.5L373.9 143.8L358.6 150.1Z" fill="url(#t73)" stroke="url(#t73)"/><path d="M353.9 164.3L369.8 158.5L342.9 156.4Z" fill="url(#t74)" stroke="url(#t74)"/><path d="M358.6 150.1L342.9 156.4L369.8 158.5Z" fill="url(#t75)" stroke="url(#t75)"/><path d="M337.6 170.4L353.9 164.3L342.9 156.4Z" fill="url(#t76)" stroke="url(#t76)"/><path d="M337.6 170.4L342.9 156.4L327.0 160.8Z" fill="url(#t77)" stroke="url(#t77)"/><path d="M320.8 176.7L337.6 170.4L310.5 165.3Z" fill="url(#t78)" stroke="url(#t78)"/><path d="M327.0 160.8L310.5 165.3L337.6 170.4Z" fill="url(#t79)" stroke="url(#t79)"/><path d="M303.6 184.5L320.8 176.7L310.5 165.3Z" fill="url(#t80)" stroke="url(#t80)"/><path d="M303.6 184.5L310.5 165.3L293.5 173.5Z" fill="url(#t81)" stroke="url(#t81)"/><path d="M285.9 192.5L303.6 184.5L276.2 181.8Z" fill="url(#t82)" stroke="url(#t82)"/><path d="M293.5 173.5L276.2 181.8L303.6 184.5Z" fill="url(#t83)" stroke="url(#t83)"/><path d="M267.8 200.8L285.9 192.5L276.2 181.8Z" fill="url(#t84)" stroke="url(#t84)"/><path d="M267.8 200.8L276.2 181.8L258.4 189.3Z" fill="url(#t85)" stroke="url(#t85)"/><path d="M249.2 209.2L267.8 200.8L240.2 197.0Z" fill="url(#t86)" stroke="url(#t86)"/><path d="M258.4 189.3L240.2 197.0L267.8 200.8Z" fill="url(#t87)" stroke="url(#t87)"/><path d="M230.3 218.1L249.2 209.2L240.2 197.0Z" fill="url(#t88)" stroke="url(#t88)"/><path d="M230.3 218.1L240.2 197.0L221.7 206.0Z" fill="url(#t89)" stroke="url(#t89)"/><path d="M210.9 227.3L230.3 218.1L202.8 215.2Z" fill="url(#t90)" stroke="url(#t90)"/><path d="M221.7 206.0L202.8 215.2L230.3 218.1Z" fill="url(#t91)" stroke="url(#t91)"/><path d="M191.6 238.6L210.9 227.3L202.8 215.2Z" fill="url(#t92)" stroke="url(#t92)"/><path d="M191.6 238.6L202.8 215.2L183.9 225.9Z" fill="url(#t93)" stroke="url(#t93)"/><path d="M172.1 250.1L191.6 238.6L164.8 236.8Z" fill="url(#t94)" stroke="url(#t94)"/><path d="M183.9 225.9L164.8 236.8L191.6 238.6Z" fill="url(#t95)" stroke="url(#t95)"/><path d="M381.1 169.9L396.7 164.2L369.8 158.5Z" fill="url(#t96)" stroke="url(#t96)"/><path d="M385.2 152.8L369.8 158.5L396.7 164.2Z" fill="url(#t97)" stroke="url(#t97)"/><path d="M365.1 175.8L381.1 169.9L369.8 158.5Z" fill="url(#t98)" stroke="url(#t98)"/><path d="M365.1 175.8L369.8 158.5L353.9 164.3Z" fill="url(#t99)" stroke="url(#t99)"/><path d="M348.5 184.0L365.1 175.8L337.6 170.4Z" fill="url(#t100)" stroke="url(#t100)"/><path d="M353.9 164.3L337.6 170.4L365.1 175.8Z" fill="url(#t101)" stroke="url(#t101)"/><path d="M331.4 192.3L348.5 184.0L337.6 170.4Z" fill="url(#t102)" stroke="url(#t102)"/><path d="M331.4 192.3L337.6 170.4L320.8 176.7Z" fill="url(#t103)" stroke="url(#t103)"/><path d="M314.0 200.0L331.4 192.3L303.6 184.5Z" fill="url(#t104)" stroke="url(#t104)"/><path d="M320.8 176.7L303.6 184.5L331.4 192.3Z" fill="url(#t105)" stroke="url(#t105)"/><path d="M296.2 207.9L314.0 200.0L303.6 184.5Z" fill="url(#t106)" stroke="url(#t106)"/><path d="M296.2 207.9L303.6 184.5L285.9 192.5Z" fill="url(#t107)" stroke="url(#t107)"/><path d="M277.9 216.2L296.2 207.9L267.8 200.8Z" fill="url(#t108)" stroke="url(#t108)"/><path d="M285.9 192.5L267.8 200.8L296.2 207.9Z" fill="url(#t109)" stroke="url(#t109)"/><path d="M259.1 224.8L277.9 216.2L267.8 200.8Z" fill="url(#t110)" stroke="url(#t110)"/><path d="M259.1 224.8L267.8 200.8L249.2 209.2Z" fill="url(#t111)" stroke="url(#t111)"/><path d="M239.9 233.8L259.1 224.8L230.3 218.1Z" fill="url(#t112)" stroke="url(#t112)"/><path d="M249.2 209.2L230.3 218.1L259.1 224.8Z" fill="url(#t113)" stroke="url(#t113)"/><path d="M220.2 243.0L239.9 233.8L230.3 218.1Z" fill="url(#t114)" stroke="url(#t114)"/><path d="M220.2 243.0L230.3 218.1L210.9 227.3Z" fill="url(#t115)" stroke="url(#t115)"/><path d="M200.5 254.3L220.2 243.0L191.6 238.6Z" fill="url(#t116)" stroke="url(#t116)"/><path d="M210.9 227.3L191.6 238.6L220.2 243.0Z" fill="url(#t117)" stroke="url(#t117)"/><path d="M180.4 265.9L200.5 254.3L191.6 238.6Z" fill="url(#t118)" stroke="url(#t118)"/><path d="M180.4 265.9L191.6 238.6L172.1 250.1Z" fill="url(#t119)" stroke="url(#t119)"/><path d="M393.0 181.8L408.6 176.0L396.7 164.2Z" fill="url(#t120)" stroke="url(#t120)"/><path d="M393.0 181.8L396.7 164.2L381.1 169.9Z" fill="url(#t121)" stroke="url(#t121)"/><path d="M376.9 187.8L393.0 181.8L365.1 175.8Z" fill="url(#t122)" stroke="url(#t122)"/><path d="M381.1 169.9L365.1 175.8L393.0 181.8Z" fill="url(#t123)" stroke="url(#t123)"/><path d="M359.7 198.1L376.9 187.8L365.1 175.8Z" fill="url(#t124)" stroke="url(#t124)"/><path d="M359.7 198.1L365.1 175.8L348.5 184.0Z" fill="url(#t125)" stroke="url(#t125)"/><path d="M342.3 208.5L359.7 198.1L331.4 192.3Z" fill="url(#t126)" stroke="url(#t126)"/><path d="M348.5 184.0L331.4 192.3L359.7 198.1Z" fill="url(#t127)" stroke="url(#t127)"/><path d="M324.8 216.0L342.3 208.5L331.4 192.3Z" fill="url(#t128)" stroke="url(#t128)"/><path d="M324.8 216.0L331.4 192.3L314.0 200.0Z" fill="url(#t129)" stroke="url(#t129)"/><path d="M306.8 223.8L324.8 216.0L296.2 207.9Z" fill="url(#t130)" stroke="url(#t130)"/><path d="M314.0 200.0L296.2 207.9L324.8 216.0Z" fill="url(#t131)" stroke="url(#t131)"/><path d="M288.3 232.2L306.8 223.8L296.2 207.9Z" fill="url(#t132)" stroke="url(#t132)"/><path d="M288.3 232.2L296.2 207.9L277.9 216.2Z" fill="url(#t133)" stroke="url(#t133)"/><path d="M269.3 240.9L288.3 232.2L259.1 224.8Z" fill="url(#t134)" stroke="url(#t134)"/><path d="M277.9 216.2L259.1 224.8L288.3 232.2Z" fill="url(#t135)" stroke="url(#t135)"/><path d="M249.8 250.0L269.3 240.9L259.1 224.8Z" fill="url(#t136)" stroke="url(#t136)"/><path d="M249.8 250.0L259.1 224.8L239.9 233.8Z" fill="url(#t137)" stroke="url(#t137)"/><path d="M229.8 259.4L249.8 250.0L220.2 243.0Z" fill="url(#t138)" stroke="url(#t138)"/><path d="M239.9 233.8L220.2 243.0L249.8 250.0Z" fill="url(#t139)" stroke="url(#t139)"/><path d="M209.6 270.8L229.8 259.4L220.2 243.0Z" fill="url(#t140)" stroke="url(#t140)"/><path d="M209.6 270.8L220.2 243.0L200.5 254.3Z" fill="url(#t141)" stroke="url(#t141)"/><path d="M189.2 282.4L209.6 270.8L180.4 265.9Z" fill="url(#t142)" stroke="url(#t142)"/><path d="M200.5 254.3L180.4 265.9L209.6 270.8Z" fill="url(#t143)" stroke="url(#t143)"/><path d="M405.3 194.5L421.0 188.7L393.0 181.8Z" fill="url(#t144)" stroke="url(#t144)"/><path d="M408.6 176.0L393.0 181.8L421.0 188.7Z" fill="url(#t145)" stroke="url(#t145)"/><path d="M389.1 200.5L405.3 194.5L393.0 181.8Z" fill="url(#t146)" stroke="url(#t146)"/><path d="M389.1 200.5L393.0 181.8L376.9 187.8Z" fill="url(#t147)" stroke="url(#t147)"/><path d="M371.8 209.8L389.1 200.5L359.7 198.1Z" fill="url(#t148)" stroke="url(#t148)"/><path d="M376.9 187.8L359.7 198.1L389.1 200.5Z" fill="url(#t149)" stroke="url(#t149)"/><path d="M354.2 219.3L371.8 209.8L359.7 198.1Z" fill="url(#t150)" stroke="url(#t150)"/><path d="M354.2 219.3L359.7 198.1L342.3 208.5Z" fill="url(#t151)" stroke="url(#t151)"/><path d="M336.4 227.3L354.2 219.3L324.8 216.0Z" fill="url(#t152)" stroke="url(#t152)"/><path d="M342.3 208.5L324.8 216.0L354.2 219.3Z" fill="url(#t153)" stroke="url(#t153)"/><path d="M318.0 235.6L336.4 227.3L324.8 216.0Z" fill="url(#t154)" stroke="url(#t154)"/><path d="M318.0 235.6L324.8 216.0L306.8 223.8Z" fill="url(#t155)" stroke="url(#t155)"/><path d="M299.1 245.1L318.0 235.6L288.3 232.2Z" fill="url(#t156)" stroke="url(#t156)"/><path d="M306.8 223.8L288.3 232.2L318.0 235.6Z" fill="url(#t157)" stroke="url(#t157)"/><path d="M279.7 254.8L299.1 245.1L288.3 232.2Z" fill="url(#t158)" stroke="url(#t158)"/><path d="M279.7 254.8L288.3 232.2L269.3 240.9Z" fill="url(#t159)" stroke="url(#t159)"/><path d="M259.9 265.2L279.7 254.8L249.8 250.0Z" fill="url(#t160)" stroke="url(#t160)"/><path d="M269.3 240.9L249.8 250.0L279.7 254.8Z" fill="url(#t161)" stroke="url(#t161)"/><path d="M239.7 275.8L259.9 265.2L249.8 250.0Z" fill="url(#t162)" stroke="url(#t162)"/><path d="M239.7 275.8L249.8 250.0L229.8 259.4Z" fill="url(#t163)" stroke="url(#t163)"/><path d="M219.2 287.7L239.7 275.8L209.6 270.8Z" fill="url(#t164)" stroke="url(#t164)"/><path d="M229.8 259.4L209.6 270.8L239.7 275.8Z" fill="url(#t165)" stroke="url(#t165)"/><path d="M198.3 299.8L219.2 287.7L209.6 270.8Z" fill="url(#t166)" stroke="url(#t166)"/><path d="M198.3 299.8L209.6 270.8L189.2 282.4Z" fill="url(#t167)" stroke="url(#t167)"/><path d="M418.2 207.7L434.0 201.9L421.0 188.7Z" fill="url(#t168)" stroke="url(#t168)"/><path d="M418.2 207.7L421.0 188.7L405.3 194.5Z" fill="url(#t169)" stroke="url(#t169)"/><path d="M401.9 213.7L418.2 207.7L389.1 200.5Z" fill="url(#t170)" stroke="url(#t170)"/><path d="M405.3 194.5L389.1 200.5L418.2 207.7Z" fill="url(#t171)" stroke="url(#t171)"/><path d="M384.6 222.1L401.9 213.7L389.1 200.5Z" fill="url(#t172)" stroke="url(#t172)"/><path d="M384.6 222.1L389.1 200.5L371.8 209.8Z" fill="url(#t173)" stroke="url(#t173)"/><path d="M366.8 230.8L384.6 222.1L354.2 219.3Z" fill="url(#t174)" stroke="url(#t174)"/><path d="M371.8 209.8L354.2 219.3L384.6 222.1Z" fill="url(#t175)" stroke="url(#t175)"/><path d="M348.6 239.4L366.8 230.8L354.2 219.3Z" fill="url(#t176)" stroke="url(#t176)"/><path d="M348.6 239.4L354.2 219.3L336.4 227.3Z" fill="url(#t177)" stroke="url(#t177)"/><path d="M329.9 248.2L348.6 239.4L318.0 235.6Z" fill="url(#t178)" stroke="url(#t178)"/><path d="M336.4 227.3L318.0 235.6L348.6 239.4Z" fill="url(#t179)" stroke="url(#t179)"/><path d="M310.5 258.8L329.9 248.2L318.0 235.6Z" fill="url(#t180)" stroke="url(#t180)"/><path d="M310.5 258.8L318.0 235.6L299.1 245.1Z" fill="url(#t181)" stroke="url(#t181)"/><path d="M290.8 269.6L310.5 258.8L279.7 254.8Z" fill="url(#t182)" stroke="url(#t182)"/><path d="M299.1 245.1L279.7 254.8L310.5 258.8Z" fill="url(#t183)" stroke="url(#t183)"/><path d="M270.6 281.2L290.8 269.6L279.7 254.8Z" fill="url(#t184)" stroke="url(#t184)"/><path d="M270.6 281.2L279.7 254.8L259.9 265.2Z" fill="url(#t185)" stroke="url(#t185)"/><path d="M250.1 293.1L270.6 281.2L239.7 275.8Z" fill="url(#t186)" stroke="url(#t186)"/><path d="M259.9 265.2L239.7 275.8L270.6 281.2Z" fill="url(#t187)" stroke="url(#t187)"/><path d="M229.2 305.4L250.1 293.1L239.7 275.8Z" fill="url(#t188)" stroke="url(#t188)"/><path d="M229.2 305.4L239.7 275.8L219.2 287.7Z" fill="url(#t189)" stroke="url(#t189)"/><path d="M207.9 317.9L229.2 305.4L198.3 299.8Z" fill="url(#t190)" stroke="url(#t190)"/><path d="M219.2 287.7L198.3 299.8L229.2 305.4Z" fill="url(#t191)" stroke="url(#t191)"/><path d="M430.9 224.3L446.5 218.5L418.2 207.7Z" fill="url(#t192)" stroke="url(#t192)"/><path d="M434.0 201.9L418.2 207.7L446.5 218.5Z" fill="url(#t193)" stroke="url(#t193)"/><path d="M414.7 230.2L430.9 224.3L418.2 207.7Z" fill="url(#t194)" stroke="url(#t194)"/><path d="M414.7 230.2L418.2 207.7L401.9 213.7Z" fill="url(#t195)" stroke="url(#t195)"/><path d="M397.4 238.4L414.7 230.2L384.6 222.1Z" fill="url(#t196)" stroke="url(#t196)"/><path d="M401.9 213.7L384.6 222.1L414.7 230.2Z" fill="url(#t197)" stroke="url(#t197)"/><path d="M379.5 246.9L397.4 238.4L384.6 222.1Z" fill="url(#t198)" stroke="url(#t198)"/><path d="M379.5 246.9L384.6 222.1L366.8 230.8Z" fill="url(#t199)" stroke="url(#t199)"/><path d="M361.0 256.3L379.5 246.9L348.6 239.4Z" fill="url(#t200)" stroke="url(#t200)"/><path d="M366.8 230.8L348.6 239.4L379.5 246.9Z" fill="url(#t201)" stroke="url(#t201)"/><path d="M342.0 266.0L361.0 256.3L348.6 239.4Z" fill="url(#t202)" stroke="url(#t202)"/><path d="M342.0 266.0L348.6 239.4L329.9 248.2Z" fill="url(#t203)" stroke="url(#t203)"/><path d="M322.5 276.8L342.0 266.0L310.5 258.8Z" fill="url(#t204)" stroke="url(#t204)"/><path d="M329.9 248.2L310.5 258.8L342.0 266.0Z" fill="url(#t205)" stroke="url(#t205)"/><path d="M302.4 288.0L322.5 276.8L310.5 258.8Z" fill="url(#t206)" stroke="url(#t206)"/><path d="M302.4 288.0L310.5 258.8L290.8 269.6Z" fill="url(#t207)" stroke="url(#t207)"/><path d="M281.9 299.5L302.4 288.0L270.6 281.2Z" fill="url(#t208)" stroke="url(#t208)"/><path d="M290.8 269.6L270.6 281.2L302.4 288.0Z" fill="url(#t209)" stroke="url(#t209)"/><path d="M261.0 311.2L281.9 299.5L270.6 281.2Z" fill="url(#t210)" stroke="url(#t210)"/><path d="M261.0 311.2L270.6 281.2L250.1 293.1Z" fill="url(#t211)" stroke="url(#t211)"/><path d="M239.8 324.4L261.0 311.2L229.2 305.4Z" fill="url(#t212)" stroke="url(#t212)"/><path d="M250.1 293.1L229.2 305.4L261.0 311.2Z" fill="url(#t213)" stroke="url(#t213)"/><path d="M218.2 337.9L239.8 324.4L229.2 305.4Z" fill="url(#t214)" stroke="url(#t214)"/><path d="M218.2 337.9L229.2 305.4L207.9 317.9Z" fill="url(#t215)" stroke="url(#t215)"/><path d="M444.0 241.4L459.4 235.7L446.5 218.5Z" fill="url(#t216)" stroke="url(#t216)"/><path d="M444.0 241.4L446.5 218.5L430.9 224.3Z" fill="url(#t217)" stroke="url(#t217)"/><path d="M427.9 247.3L444.0 241.4L414.7 230.2Z" fill="url(#t218)" stroke="url(#t218)"/><path d="M430.9 224.3L414.7 230.2L444.0 241.4Z" fill="url(#t219)" stroke="url(#t219)"/><path d="M410.6 255.3L427.9 247.3L414.7 230.2Z" fill="url(#t220)" stroke="url(#t220)"/><path d="M410.6 255.3L414.7 230.2L397.4 238.4Z" fill="url(#t221)" stroke="url(#t221)"/><path d="M392.7 263.7L410.6 255.3L379.5 246.9Z" fill="url(#t222)" stroke="url(#t222)"/><path d="M397.4 238.4L379.5 246.9L410.6 255.3Z" fill="url(#t223)" stroke="url(#t223)"/><path d="M374.0 273.9L392.7 263.7L379.5 246.9Z" fill="url(#t224)" stroke="url(#t224)"/><path d="M374.0 273.9L379.5 246.9L361.0 256.3Z" fill="url(#t225)" stroke="url(#t225)"/><path d="M354.7 284.5L374.0 273.9L342.0 266.0Z" fill="url(#t226)" stroke="url(#t226)"/><path d="M361.0 256.3L342.0 266.0L374.0 273.9Z" fill="url(#t227)" stroke="url(#t227)"/><path d="M334.9 295.7L354.7 284.5L342.0 266.0Z" fill="url(#t228)" stroke="url(#t228)"/><path d="M334.9 295.7L342.0 266.0L322.5 276.8Z" fill="url(#t229)" stroke="url(#t229)"/><path d="M314.6 307.1L334.9 295.7L302.4 288.0Z" fill="url(#t230)" stroke="url(#t230)"/><path d="M322.5 276.8L302.4 288.0L334.9 295.7Z" fill="url(#t231)" stroke="url(#t231)"/><path d="M293.8 318.5L314.6 307.1L302.4 288.0Z" fill="url(#t232)" stroke="url(#t232)"/><path d="M293.8 318.5L302.4 288.0L281.9 299.5Z" fill="url(#t233)" stroke="url(#t233)"/><path d="M272.4 330.2L293.8 318.5L261.0 311.2Z" fill="url(#t234)" stroke="url(#t234)"/><path d="M281.9 299.5L261.0 311.2L293.8 318.5Z" fill="url(#t235)" stroke="url(#t235)"/><path d="M250.8 344.4L272.4 330.2L261.0 311.2Z" fill="url(#t236)" stroke="url(#t236)"/><path d="M250.8 344.4L261.0 311.2L239.8 324.4Z" fill="url(#t237)" stroke="url(#t237)"/><path d="M229.0 358.8L250.8 344.4L218.2 337.9Z" fill="url(#t238)" stroke="url(#t238)"/><path d="M239.8 324.4L218.2 337.9L250.8 344.4Z" fill="url(#t239)" stroke="url(#t239)"/><path d="M455.7 263.5L470.7 258.0L444.0 241.4Z" fill="url(#t240)" stroke="url(#t240)"/><path d="M459.4 235.7L444.0 241.4L470.7 258.0Z" fill="url(#t241)" stroke="url(#t241)"/><path d="M440.0 269.3L455.7 263.5L444.0 241.4Z" fill="url(#t242)" stroke="url(#t242)"/><path d="M440.0 269.3L444.0 241.4L427.9 247.3Z" fill="url(#t243)" stroke="url(#t243)"/><path d="M423.2 276.8L440.0 269.3L410.6 255.3Z" fill="url(#t244)" stroke="url(#t244)"/><path d="M427.9 247.3L410.6 255.3L440.0 269.3Z" fill="url(#t245)" stroke="url(#t245)"/><path d="M405.6 284.6L423.2 276.8L410.6 255.3Z" fill="url(#t246)" stroke="url(#t246)"/><path d="M405.6 284.6L410.6 255.3L392.7 263.7Z" fill="url(#t247)" stroke="url(#t247)"/><path d="M387.0 294.4L405.6 284.6L374.0 273.9Z" fill="url(#t248)" stroke="url(#t248)"/><path d="M392.7 263.7L374.0 273.9L405.6 284.6Z" fill="url(#t249)" stroke="url(#t249)"/><path d="M367.7 304.5L387.0 294.4L374.0 273.9Z" fill="url(#t250)" stroke="url(#t250)"/><path d="M367.7 304.5L374.0 273.9L354.7 284.5Z" fill="url(#t251)" stroke="url(#t251)"/><path d="M347.8 315.7L367.7 304.5L334.9 295.7Z" fill="url(#t252)" stroke="url(#t252)"/><path d="M354.7 284.5L334.9 295.7L367.7 304.5Z" fill="url(#t253)" stroke="url(#t253)"/><path d="M327.3 327.3L347.8 315.7L334.9 295.7Z" fill="url(#t254)" stroke="url(#t254)"/><path d="M327.3 327.3L334.9 295.7L314.6 307.1Z" fill="url(#t255)" stroke="url(#t255)"/><path d="M306.2 339.7L327.3 327.3L293.8 318.5Z" fill="url(#t256)" stroke="url(#t256)"/><path d="M314.6 307.1L293.8 318.5L327.3 327.3Z" fill="url(#t257)" stroke="url(#t257)"/><path d="M284.6 352.3L306.2 339.7L293.8 318.5Z" fill="url(#t258)" stroke="url(#t258)"/><path d="M284.6 352.3L293.8 318.5L272.4 330.2Z" fill="url(#t259)" stroke="url(#t259)"/><path d="M262.7 366.9L284.6 352.3L250.8 344.4Z" fill="url(#t260)" stroke="url(#t260)"/><path d="M272.4 330.2L250.8 344.4L284.6 352.3Z" fill="url(#t261)" stroke="url(#t261)"/><path d="M240.5 381.7L262.7 366.9L250.8 344.4Z" fill="url(#t262)" stroke="url(#t262)"/><path d="M240.5 381.7L250.8 344.4L229.0 358.8Z" fill="url(#t263)" stroke="url(#t263)"/><path d="M467.6 285.9L482.2 280.4L470.7 258.0Z" fill="url(#t264)" stroke="url(#t264)"/><path d="M467.6 285.9L470.7 258.0L455.7 263.5Z" fill="url(#t265)" stroke="url(#t265)"/><path d="M452.4 291.7L467.6 285.9L440.0 269.3Z" fill="url(#t266)" stroke="url(#t266)"/><path d="M455.7 263.5L440.0 269.3L467.6 285.9Z" fill="url(#t267)" stroke="url(#t267)"/><path d="M436.0 298.7L452.4 291.7L440.0 269.3Z" fill="url(#t268)" stroke="url(#t268)"/><path d="M436.0 298.7L440.0 269.3L423.2 276.8Z" fill="url(#t269)" stroke="url(#t269)"/><path d="M418.8 306.1L436.0 298.7L405.6 284.6Z" fill="url(#t270)" stroke="url(#t270)"/><path d="M423.2 276.8L405.6 284.6L436.0 298.7Z" fill="url(#t271)" stroke="url(#t271)"/><path d="M400.4 315.5L418.8 306.1L405.6 284.6Z" fill="url(#t272)" stroke="url(#t272)"/><path d="M400.4 315.5L405.6 284.6L387.0 294.4Z" fill="url(#t273)" stroke="url(#t273)"/><path d="M381.2 325.2L400.4 315.5L367.7 304.5Z" fill="url(#t274)" stroke="url(#t274)"/><path d="M387.0 294.4L367.7 304.5L400.4 315.5Z" fill="url(#t275)" stroke="url(#t275)"/><path d="M361.1 336.6L381.2 325.2L367.7 304.5Z" fill="url(#t276)" stroke="url(#t276)"/><path d="M361.1 336.6L367.7 304.5L347.8 315.7Z" fill="url(#t277)" stroke="url(#t277)"/><path d="M340.5 348.4L361.1 336.6L327.3 327.3Z" fill="url(#t278)" stroke="url(#t278)"/><path d="M347.8 315.7L327.3 327.3L361.1 336.6Z" fill="url(#t279)" stroke="url(#t279)"/><path d="M319.1 361.7L340.5 348.4L327.3 327.3Z" fill="url(#t280)" stroke="url(#t280)"/><path d="M319.1 361.7L327.3 327.3L306.2 339.7Z" fill="url(#t281)" stroke="url(#t281)"/><path d="M297.2 375.3L319.1 361.7L284.6 352.3Z" fill="url(#t282)" stroke="url(#t282)"/><path d="M306.2 339.7L284.6 352.3L319.1 361.7Z" fill="url(#t283)" stroke="url(#t283)"/><path d="M275.0 390.3L297.2 375.3L284.6 352.3Z" fill="url(#t284)" stroke="url(#t284)"/><path d="M275.0 390.3L284.6 352.3L262.7 366.9Z" fill="url(#t285)" stroke="url(#t285)"/><path d="M252.5 405.5L275.0 390.3L240.5 381.7Z" fill="url(#t286)" stroke="url(#t286)"/><path d="M262.7 366.9L240.5 381.7L275.0 390.3Z" fill="url(#t287)" stroke="url(#t287)"/></g>

<g id="labels" opacity="0.995"><text class="t" font-size="12.2" transform="translate(66.7 89.9) rotate(-18)" text-anchor="middle" dy="0.36em">2</text><text class="t" font-size="12.2" transform="translate(93.3 148.7) rotate(-18)" text-anchor="middle" dy="0.36em">1</text><text class="t" font-size="12.2" transform="translate(113.2 197.8) rotate(-18)" text-anchor="middle" dy="0.36em">0</text><text class="t" font-size="12.2" transform="translate(132.2 237.1) rotate(-20)" text-anchor="middle" dy="0.36em">−1</text><text class="t" font-size="12.2" transform="translate(144.8 270.0) rotate(-22)" text-anchor="middle" dy="0.36em">−2</text><text class="t" font-size="14" transform="translate(80.5 208.9) rotate(-5)" text-anchor="middle" dy="0.36em">z</text><text class="t" font-size="12.2" transform="translate(148.8 279.4) rotate(-28)" text-anchor="middle" dy="0.36em">350</text><text class="t" font-size="12.2" transform="translate(159.0 300.5) rotate(-28)" text-anchor="middle" dy="0.36em">300</text><text class="t" font-size="12.2" transform="translate(170.0 324.0) rotate(-28)" text-anchor="middle" dy="0.36em">250</text><text class="t" font-size="12.2" transform="translate(181.0 346.5) rotate(-28)" text-anchor="middle" dy="0.36em">200</text><text class="t" font-size="12.2" transform="translate(193.8 373.8) rotate(-28)" text-anchor="middle" dy="0.36em">150</text><text class="t" font-size="12.2" transform="translate(207.5 401.0) rotate(-28)" text-anchor="middle" dy="0.36em">100</text><text class="t" font-size="12.2" transform="translate(221.0 431.0) rotate(-28)" text-anchor="middle" dy="0.36em">50</text><text class="t" font-size="14" transform="translate(156.2 369.3) rotate(-18)" text-anchor="middle" dy="0.36em">y</text><text class="t" font-size="12.2" transform="translate(337.5 435.4) rotate(49)" text-anchor="middle" dy="0.36em">100</text><text class="t" font-size="12.2" transform="translate(366.6 417.4) rotate(49)" text-anchor="middle" dy="0.36em">150</text><text class="t" font-size="12.2" transform="translate(394.3 400.4) rotate(49)" text-anchor="middle" dy="0.36em">200</text><text class="t" font-size="12.2" transform="translate(420.7 383.4) rotate(49)" text-anchor="middle" dy="0.36em">250</text><text class="t" font-size="12.2" transform="translate(446.5 367.3) rotate(49)" text-anchor="middle" dy="0.36em">300</text><text class="t" font-size="12.2" transform="translate(470.6 352.2) rotate(49)" text-anchor="middle" dy="0.36em">350</text><text class="t" font-size="14" transform="translate(404.6 437.4) rotate(49)" text-anchor="middle" dy="0.36em">x</text></g>
</g>
<rect x="616.5" y="21.7" width="28.5" height="407.0" fill="url(#cbg)" stroke="#444" stroke-width="1"/>
<g opacity="0.995"><text class="t" font-size="11.4" x="648" y="76.5">1.5</text><text class="t" font-size="11.4" x="648" y="127.3">1</text><text class="t" font-size="11.4" x="648" y="178.2">0.5</text><text class="t" font-size="11.4" x="648" y="229.1">0</text><text class="t" font-size="11.4" x="648" y="280.0">−0.5</text><text class="t" font-size="11.4" x="648" y="330.8">−1</text><text class="t" font-size="11.4" x="648" y="381.7">−1.5</text><text class="t" font-size="11.4" x="648" y="432.6">−2</text></g>
<g class="t" font-size="11.5" text-anchor="middle" opacity="0.995"><text x="563.3" y="401.7">Min: -0.501</text><text x="563.4" y="416.7">Max: 0.131</text><text x="564" y="431.5">Var: 0.632</text></g>
</svg>
<div id="foot">Using saved mesh data from 14/10/2023, 8:43:12 am.</div>
</body></html>
